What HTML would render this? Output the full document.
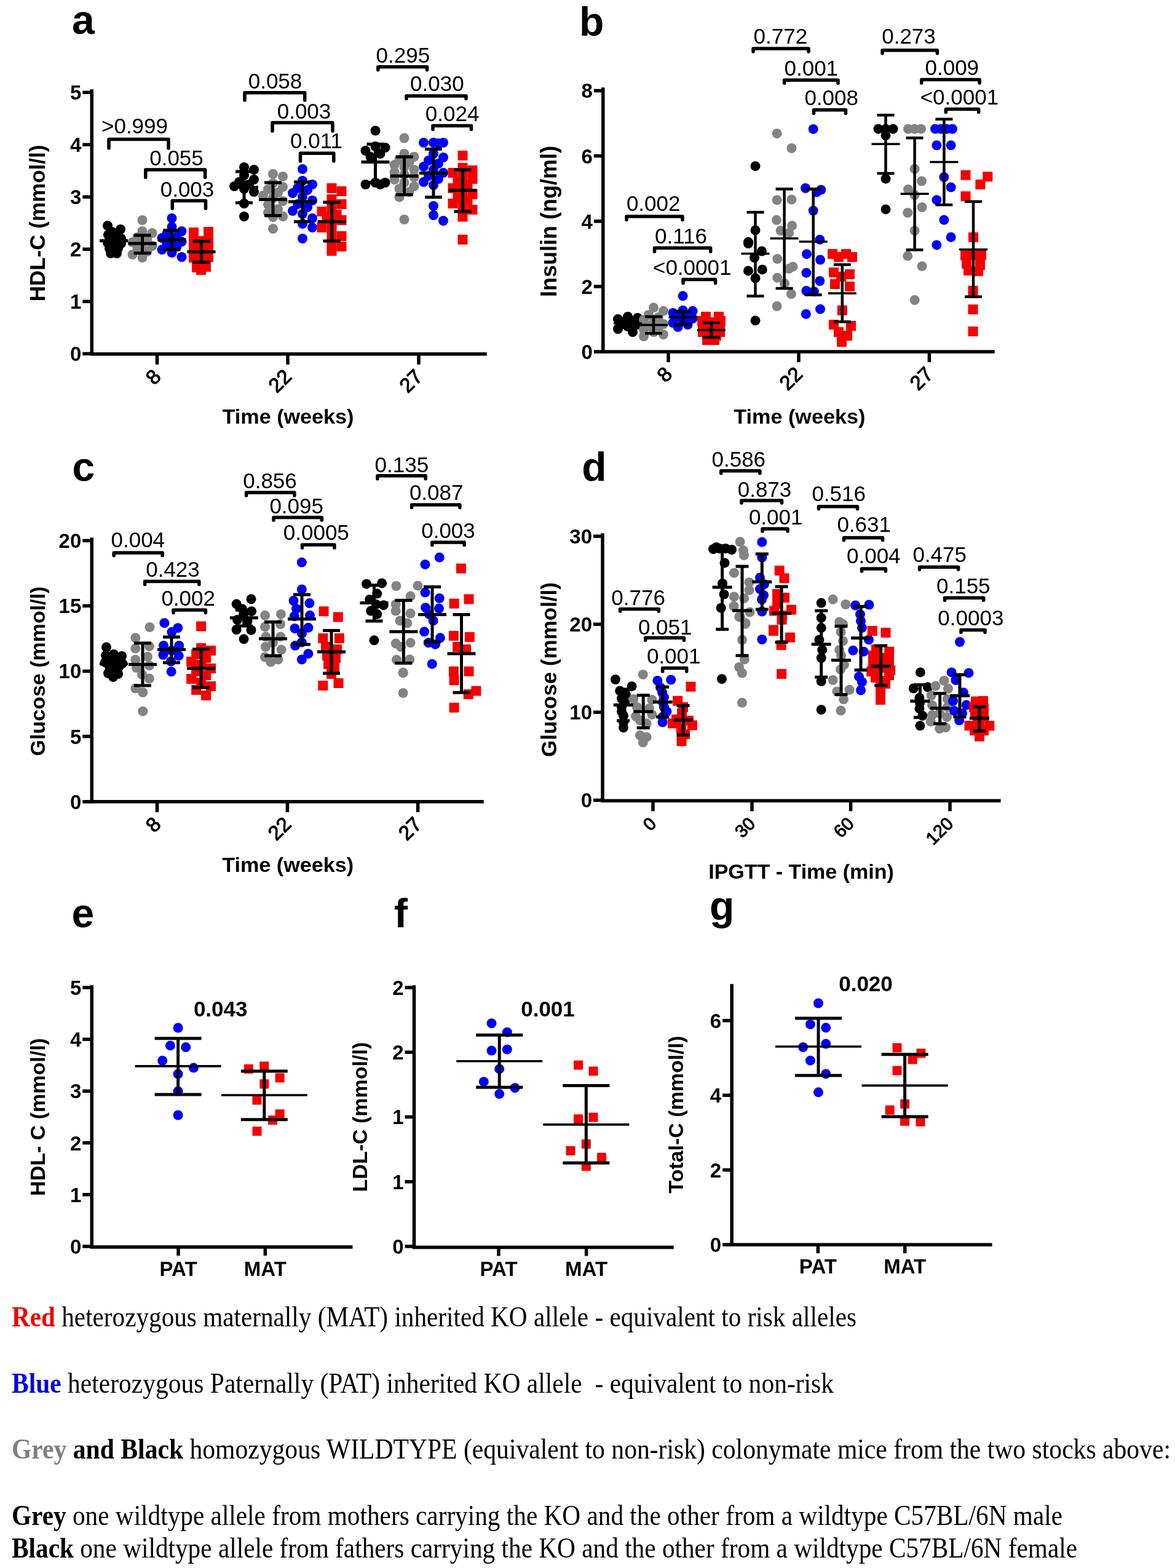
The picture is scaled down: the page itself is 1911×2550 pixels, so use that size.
<!DOCTYPE html>
<html><head><meta charset="utf-8"><title>Figure</title>
<style>html,body{margin:0;padding:0;background:#fff;}svg{display:block;}</style></head>
<body><svg width="1911" height="2550" viewBox="0 0 1911 2550">
<rect width="1911" height="2550" fill="#fff"/>
<circle cx="175.0" cy="367.0" r="8.0" fill="#000000"/>
<circle cx="196.0" cy="373.0" r="8.0" fill="#000000"/>
<circle cx="182.0" cy="377.0" r="8.0" fill="#000000"/>
<circle cx="176.0" cy="382.0" r="8.0" fill="#000000"/>
<circle cx="192.0" cy="382.0" r="8.0" fill="#000000"/>
<circle cx="197.0" cy="388.0" r="8.0" fill="#000000"/>
<circle cx="180.0" cy="389.0" r="8.0" fill="#000000"/>
<circle cx="188.0" cy="392.0" r="8.0" fill="#000000"/>
<circle cx="175.0" cy="395.0" r="8.0" fill="#000000"/>
<circle cx="197.0" cy="396.0" r="8.0" fill="#000000"/>
<circle cx="184.0" cy="399.0" r="8.0" fill="#000000"/>
<circle cx="178.0" cy="404.0" r="8.0" fill="#000000"/>
<circle cx="192.0" cy="404.0" r="8.0" fill="#000000"/>
<circle cx="185.0" cy="409.0" r="8.0" fill="#000000"/>
<circle cx="180.0" cy="412.0" r="8.0" fill="#000000"/>
<circle cx="190.0" cy="412.0" r="8.0" fill="#000000"/>
<circle cx="231.5" cy="358.0" r="8.0" fill="#838383"/>
<circle cx="231.5" cy="376.0" r="8.0" fill="#838383"/>
<circle cx="247.5" cy="379.0" r="8.0" fill="#838383"/>
<circle cx="223.5" cy="386.0" r="8.0" fill="#838383"/>
<circle cx="239.5" cy="390.0" r="8.0" fill="#838383"/>
<circle cx="215.5" cy="394.0" r="8.0" fill="#838383"/>
<circle cx="231.5" cy="397.0" r="8.0" fill="#838383"/>
<circle cx="247.5" cy="400.0" r="8.0" fill="#838383"/>
<circle cx="223.5" cy="404.0" r="8.0" fill="#838383"/>
<circle cx="239.5" cy="409.0" r="8.0" fill="#838383"/>
<circle cx="215.5" cy="414.0" r="8.0" fill="#838383"/>
<circle cx="231.5" cy="419.0" r="8.0" fill="#838383"/>
<circle cx="279.5" cy="355.0" r="8.0" fill="#0000f5"/>
<circle cx="279.5" cy="369.0" r="8.0" fill="#0000f5"/>
<circle cx="295.5" cy="376.0" r="8.0" fill="#0000f5"/>
<circle cx="271.5" cy="380.0" r="8.0" fill="#0000f5"/>
<circle cx="287.5" cy="384.0" r="8.0" fill="#0000f5"/>
<circle cx="263.5" cy="387.0" r="8.0" fill="#0000f5"/>
<circle cx="279.5" cy="390.0" r="8.0" fill="#0000f5"/>
<circle cx="295.5" cy="393.0" r="8.0" fill="#0000f5"/>
<circle cx="271.5" cy="397.0" r="8.0" fill="#0000f5"/>
<circle cx="287.5" cy="401.0" r="8.0" fill="#0000f5"/>
<circle cx="263.5" cy="406.0" r="8.0" fill="#0000f5"/>
<circle cx="279.5" cy="411.0" r="8.0" fill="#0000f5"/>
<circle cx="295.5" cy="418.0" r="8.0" fill="#0000f5"/>
<rect x="307.0" y="370.0" width="16.0" height="16.0" fill="#f50000"/>
<rect x="331.0" y="369.0" width="16.0" height="16.0" fill="#f50000"/>
<rect x="307.0" y="379.0" width="16.0" height="16.0" fill="#f50000"/>
<rect x="331.0" y="378.0" width="16.0" height="16.0" fill="#f50000"/>
<rect x="319.0" y="384.0" width="16.0" height="16.0" fill="#f50000"/>
<rect x="307.0" y="389.0" width="16.0" height="16.0" fill="#f50000"/>
<rect x="331.0" y="388.0" width="16.0" height="16.0" fill="#f50000"/>
<rect x="319.0" y="395.0" width="16.0" height="16.0" fill="#f50000"/>
<rect x="307.0" y="400.0" width="16.0" height="16.0" fill="#f50000"/>
<rect x="331.0" y="399.0" width="16.0" height="16.0" fill="#f50000"/>
<rect x="319.0" y="406.0" width="16.0" height="16.0" fill="#f50000"/>
<rect x="307.0" y="411.0" width="16.0" height="16.0" fill="#f50000"/>
<rect x="331.0" y="410.0" width="16.0" height="16.0" fill="#f50000"/>
<rect x="313.0" y="419.0" width="16.0" height="16.0" fill="#f50000"/>
<rect x="327.0" y="418.0" width="16.0" height="16.0" fill="#f50000"/>
<rect x="312.0" y="427.0" width="16.0" height="16.0" fill="#f50000"/>
<rect x="327.0" y="426.0" width="16.0" height="16.0" fill="#f50000"/>
<rect x="319.0" y="431.0" width="16.0" height="16.0" fill="#f50000"/>
<circle cx="397.0" cy="272.0" r="8.0" fill="#000000"/>
<circle cx="413.0" cy="276.0" r="8.0" fill="#000000"/>
<circle cx="397.0" cy="285.0" r="8.0" fill="#000000"/>
<circle cx="413.0" cy="292.0" r="8.0" fill="#000000"/>
<circle cx="389.0" cy="296.0" r="8.0" fill="#000000"/>
<circle cx="405.0" cy="300.0" r="8.0" fill="#000000"/>
<circle cx="381.0" cy="303.0" r="8.0" fill="#000000"/>
<circle cx="397.0" cy="307.0" r="8.0" fill="#000000"/>
<circle cx="413.0" cy="312.0" r="8.0" fill="#000000"/>
<circle cx="397.0" cy="331.0" r="8.0" fill="#000000"/>
<circle cx="397.0" cy="352.0" r="8.0" fill="#000000"/>
<circle cx="444.0" cy="283.0" r="8.0" fill="#838383"/>
<circle cx="460.0" cy="287.0" r="8.0" fill="#838383"/>
<circle cx="444.0" cy="298.0" r="8.0" fill="#838383"/>
<circle cx="460.0" cy="304.0" r="8.0" fill="#838383"/>
<circle cx="436.0" cy="308.0" r="8.0" fill="#838383"/>
<circle cx="452.0" cy="313.0" r="8.0" fill="#838383"/>
<circle cx="428.0" cy="318.0" r="8.0" fill="#838383"/>
<circle cx="444.0" cy="322.0" r="8.0" fill="#838383"/>
<circle cx="460.0" cy="327.0" r="8.0" fill="#838383"/>
<circle cx="436.0" cy="333.0" r="8.0" fill="#838383"/>
<circle cx="452.0" cy="340.0" r="8.0" fill="#838383"/>
<circle cx="436.0" cy="346.0" r="8.0" fill="#838383"/>
<circle cx="460.0" cy="352.0" r="8.0" fill="#838383"/>
<circle cx="444.0" cy="353.0" r="8.0" fill="#838383"/>
<circle cx="444.0" cy="372.0" r="8.0" fill="#838383"/>
<circle cx="492.0" cy="275.0" r="8.0" fill="#0000f5"/>
<circle cx="492.0" cy="294.0" r="8.0" fill="#0000f5"/>
<circle cx="508.0" cy="300.0" r="8.0" fill="#0000f5"/>
<circle cx="484.0" cy="306.0" r="8.0" fill="#0000f5"/>
<circle cx="500.0" cy="309.0" r="8.0" fill="#0000f5"/>
<circle cx="476.0" cy="314.0" r="8.0" fill="#0000f5"/>
<circle cx="492.0" cy="320.0" r="8.0" fill="#0000f5"/>
<circle cx="508.0" cy="326.0" r="8.0" fill="#0000f5"/>
<circle cx="484.0" cy="332.0" r="8.0" fill="#0000f5"/>
<circle cx="500.0" cy="337.0" r="8.0" fill="#0000f5"/>
<circle cx="476.0" cy="343.0" r="8.0" fill="#0000f5"/>
<circle cx="492.0" cy="348.0" r="8.0" fill="#0000f5"/>
<circle cx="508.0" cy="355.0" r="8.0" fill="#0000f5"/>
<circle cx="492.0" cy="364.0" r="8.0" fill="#0000f5"/>
<circle cx="508.0" cy="370.0" r="8.0" fill="#0000f5"/>
<circle cx="492.0" cy="388.0" r="8.0" fill="#0000f5"/>
<rect x="531.5" y="298.0" width="16.0" height="16.0" fill="#f50000"/>
<rect x="547.5" y="303.0" width="16.0" height="16.0" fill="#f50000"/>
<rect x="531.5" y="316.0" width="16.0" height="16.0" fill="#f50000"/>
<rect x="547.5" y="324.0" width="16.0" height="16.0" fill="#f50000"/>
<rect x="531.5" y="331.0" width="16.0" height="16.0" fill="#f50000"/>
<rect x="515.5" y="336.0" width="16.0" height="16.0" fill="#f50000"/>
<rect x="539.5" y="341.0" width="16.0" height="16.0" fill="#f50000"/>
<rect x="523.5" y="345.0" width="16.0" height="16.0" fill="#f50000"/>
<rect x="547.5" y="350.0" width="16.0" height="16.0" fill="#f50000"/>
<rect x="531.5" y="356.0" width="16.0" height="16.0" fill="#f50000"/>
<rect x="515.5" y="362.0" width="16.0" height="16.0" fill="#f50000"/>
<rect x="531.5" y="369.0" width="16.0" height="16.0" fill="#f50000"/>
<rect x="547.5" y="376.0" width="16.0" height="16.0" fill="#f50000"/>
<rect x="531.5" y="385.0" width="16.0" height="16.0" fill="#f50000"/>
<rect x="547.5" y="393.0" width="16.0" height="16.0" fill="#f50000"/>
<rect x="531.5" y="400.0" width="16.0" height="16.0" fill="#f50000"/>
<circle cx="610.5" cy="212.5" r="8.0" fill="#000000"/>
<circle cx="610.5" cy="238.0" r="8.0" fill="#000000"/>
<circle cx="626.5" cy="240.0" r="8.0" fill="#000000"/>
<circle cx="594.5" cy="245.0" r="8.0" fill="#000000"/>
<circle cx="618.5" cy="250.0" r="8.0" fill="#000000"/>
<circle cx="602.5" cy="255.0" r="8.0" fill="#000000"/>
<circle cx="610.5" cy="297.0" r="8.0" fill="#000000"/>
<circle cx="594.5" cy="300.0" r="8.0" fill="#000000"/>
<circle cx="626.5" cy="297.0" r="8.0" fill="#000000"/>
<circle cx="618.5" cy="300.0" r="8.0" fill="#000000"/>
<circle cx="657.5" cy="224.5" r="8.0" fill="#838383"/>
<circle cx="657.5" cy="250.0" r="8.0" fill="#838383"/>
<circle cx="673.5" cy="255.0" r="8.0" fill="#838383"/>
<circle cx="649.5" cy="260.0" r="8.0" fill="#838383"/>
<circle cx="665.5" cy="264.0" r="8.0" fill="#838383"/>
<circle cx="641.5" cy="268.0" r="8.0" fill="#838383"/>
<circle cx="657.5" cy="272.0" r="8.0" fill="#838383"/>
<circle cx="673.5" cy="276.0" r="8.0" fill="#838383"/>
<circle cx="641.5" cy="280.0" r="8.0" fill="#838383"/>
<circle cx="657.5" cy="284.0" r="8.0" fill="#838383"/>
<circle cx="673.5" cy="288.0" r="8.0" fill="#838383"/>
<circle cx="641.5" cy="292.0" r="8.0" fill="#838383"/>
<circle cx="657.5" cy="297.0" r="8.0" fill="#838383"/>
<circle cx="673.5" cy="303.0" r="8.0" fill="#838383"/>
<circle cx="649.5" cy="307.0" r="8.0" fill="#838383"/>
<circle cx="665.5" cy="312.0" r="8.0" fill="#838383"/>
<circle cx="649.5" cy="320.7" r="8.0" fill="#838383"/>
<circle cx="657.5" cy="357.0" r="8.0" fill="#838383"/>
<circle cx="705.0" cy="232.0" r="8.0" fill="#0000f5"/>
<circle cx="721.0" cy="232.0" r="8.0" fill="#0000f5"/>
<circle cx="689.0" cy="232.0" r="8.0" fill="#0000f5"/>
<circle cx="713.0" cy="233.0" r="8.0" fill="#0000f5"/>
<circle cx="705.0" cy="250.0" r="8.0" fill="#0000f5"/>
<circle cx="721.0" cy="256.0" r="8.0" fill="#0000f5"/>
<circle cx="697.0" cy="261.0" r="8.0" fill="#0000f5"/>
<circle cx="713.0" cy="266.0" r="8.0" fill="#0000f5"/>
<circle cx="689.0" cy="271.0" r="8.0" fill="#0000f5"/>
<circle cx="705.0" cy="276.0" r="8.0" fill="#0000f5"/>
<circle cx="721.0" cy="281.0" r="8.0" fill="#0000f5"/>
<circle cx="697.0" cy="286.0" r="8.0" fill="#0000f5"/>
<circle cx="713.0" cy="291.0" r="8.0" fill="#0000f5"/>
<circle cx="689.0" cy="296.0" r="8.0" fill="#0000f5"/>
<circle cx="705.0" cy="301.0" r="8.0" fill="#0000f5"/>
<circle cx="705.0" cy="335.0" r="8.0" fill="#0000f5"/>
<circle cx="705.0" cy="350.0" r="8.0" fill="#0000f5"/>
<circle cx="721.0" cy="359.0" r="8.0" fill="#0000f5"/>
<rect x="744.5" y="245.0" width="16.0" height="16.0" fill="#f50000"/>
<rect x="744.5" y="265.0" width="16.0" height="16.0" fill="#f50000"/>
<rect x="760.5" y="269.0" width="16.0" height="16.0" fill="#f50000"/>
<rect x="728.5" y="273.0" width="16.0" height="16.0" fill="#f50000"/>
<rect x="744.5" y="278.0" width="16.0" height="16.0" fill="#f50000"/>
<rect x="760.5" y="283.0" width="16.0" height="16.0" fill="#f50000"/>
<rect x="736.5" y="288.0" width="16.0" height="16.0" fill="#f50000"/>
<rect x="752.5" y="293.0" width="16.0" height="16.0" fill="#f50000"/>
<rect x="728.5" y="298.0" width="16.0" height="16.0" fill="#f50000"/>
<rect x="744.5" y="303.0" width="16.0" height="16.0" fill="#f50000"/>
<rect x="760.5" y="308.0" width="16.0" height="16.0" fill="#f50000"/>
<rect x="736.5" y="313.0" width="16.0" height="16.0" fill="#f50000"/>
<rect x="752.5" y="318.0" width="16.0" height="16.0" fill="#f50000"/>
<rect x="728.5" y="323.0" width="16.0" height="16.0" fill="#f50000"/>
<rect x="744.5" y="328.0" width="16.0" height="16.0" fill="#f50000"/>
<rect x="760.5" y="333.0" width="16.0" height="16.0" fill="#f50000"/>
<rect x="744.5" y="344.5" width="16.0" height="16.0" fill="#f50000"/>
<rect x="744.5" y="381.7" width="16.0" height="16.0" fill="#f50000"/>
<line x1="185.0" y1="380.8" x2="185.0" y2="406.0" stroke="#000" stroke-width="5" stroke-linecap="butt"/>
<line x1="171.0" y1="380.8" x2="199.0" y2="380.8" stroke="#000" stroke-width="5" stroke-linecap="butt"/>
<line x1="171.0" y1="406.0" x2="199.0" y2="406.0" stroke="#000" stroke-width="5" stroke-linecap="butt"/>
<line x1="162.0" y1="391.5" x2="208.0" y2="391.5" stroke="#000" stroke-width="5" stroke-linecap="butt"/>
<line x1="231.5" y1="382.6" x2="231.5" y2="411.6" stroke="#000" stroke-width="5" stroke-linecap="butt"/>
<line x1="217.5" y1="382.6" x2="245.5" y2="382.6" stroke="#000" stroke-width="5" stroke-linecap="butt"/>
<line x1="217.5" y1="411.6" x2="245.5" y2="411.6" stroke="#000" stroke-width="5" stroke-linecap="butt"/>
<line x1="208.5" y1="396.0" x2="254.5" y2="396.0" stroke="#000" stroke-width="5" stroke-linecap="butt"/>
<line x1="279.5" y1="374.5" x2="279.5" y2="406.0" stroke="#000" stroke-width="5" stroke-linecap="butt"/>
<line x1="265.5" y1="374.5" x2="293.5" y2="374.5" stroke="#000" stroke-width="5" stroke-linecap="butt"/>
<line x1="265.5" y1="406.0" x2="293.5" y2="406.0" stroke="#000" stroke-width="5" stroke-linecap="butt"/>
<line x1="256.5" y1="389.9" x2="302.5" y2="389.9" stroke="#000" stroke-width="5" stroke-linecap="butt"/>
<line x1="327.5" y1="392.5" x2="327.5" y2="426.5" stroke="#000" stroke-width="5" stroke-linecap="butt"/>
<line x1="313.5" y1="392.5" x2="341.5" y2="392.5" stroke="#000" stroke-width="5" stroke-linecap="butt"/>
<line x1="313.5" y1="426.5" x2="341.5" y2="426.5" stroke="#000" stroke-width="5" stroke-linecap="butt"/>
<line x1="304.5" y1="409.4" x2="350.5" y2="409.4" stroke="#000" stroke-width="5" stroke-linecap="butt"/>
<line x1="397.0" y1="279.0" x2="397.0" y2="329.8" stroke="#000" stroke-width="5" stroke-linecap="butt"/>
<line x1="383.0" y1="279.0" x2="411.0" y2="279.0" stroke="#000" stroke-width="5" stroke-linecap="butt"/>
<line x1="383.0" y1="329.8" x2="411.0" y2="329.8" stroke="#000" stroke-width="5" stroke-linecap="butt"/>
<line x1="374.0" y1="304.4" x2="420.0" y2="304.4" stroke="#000" stroke-width="5" stroke-linecap="butt"/>
<line x1="444.0" y1="297.0" x2="444.0" y2="350.6" stroke="#000" stroke-width="5" stroke-linecap="butt"/>
<line x1="430.0" y1="297.0" x2="458.0" y2="297.0" stroke="#000" stroke-width="5" stroke-linecap="butt"/>
<line x1="430.0" y1="350.6" x2="458.0" y2="350.6" stroke="#000" stroke-width="5" stroke-linecap="butt"/>
<line x1="421.0" y1="324.4" x2="467.0" y2="324.4" stroke="#000" stroke-width="5" stroke-linecap="butt"/>
<line x1="492.0" y1="296.0" x2="492.0" y2="360.5" stroke="#000" stroke-width="5" stroke-linecap="butt"/>
<line x1="478.0" y1="296.0" x2="506.0" y2="296.0" stroke="#000" stroke-width="5" stroke-linecap="butt"/>
<line x1="478.0" y1="360.5" x2="506.0" y2="360.5" stroke="#000" stroke-width="5" stroke-linecap="butt"/>
<line x1="469.0" y1="328.0" x2="515.0" y2="328.0" stroke="#000" stroke-width="5" stroke-linecap="butt"/>
<line x1="539.5" y1="329.0" x2="539.5" y2="392.0" stroke="#000" stroke-width="5" stroke-linecap="butt"/>
<line x1="525.5" y1="329.0" x2="553.5" y2="329.0" stroke="#000" stroke-width="5" stroke-linecap="butt"/>
<line x1="525.5" y1="392.0" x2="553.5" y2="392.0" stroke="#000" stroke-width="5" stroke-linecap="butt"/>
<line x1="516.5" y1="360.5" x2="562.5" y2="360.5" stroke="#000" stroke-width="5" stroke-linecap="butt"/>
<line x1="610.5" y1="234.4" x2="610.5" y2="296.8" stroke="#000" stroke-width="5" stroke-linecap="butt"/>
<line x1="596.5" y1="234.4" x2="624.5" y2="234.4" stroke="#000" stroke-width="5" stroke-linecap="butt"/>
<line x1="596.5" y1="296.8" x2="624.5" y2="296.8" stroke="#000" stroke-width="5" stroke-linecap="butt"/>
<line x1="587.5" y1="263.6" x2="633.5" y2="263.6" stroke="#000" stroke-width="5" stroke-linecap="butt"/>
<line x1="657.5" y1="255.0" x2="657.5" y2="316.7" stroke="#000" stroke-width="5" stroke-linecap="butt"/>
<line x1="643.5" y1="255.0" x2="671.5" y2="255.0" stroke="#000" stroke-width="5" stroke-linecap="butt"/>
<line x1="643.5" y1="316.7" x2="671.5" y2="316.7" stroke="#000" stroke-width="5" stroke-linecap="butt"/>
<line x1="634.5" y1="286.2" x2="680.5" y2="286.2" stroke="#000" stroke-width="5" stroke-linecap="butt"/>
<line x1="705.0" y1="242.4" x2="705.0" y2="320.7" stroke="#000" stroke-width="5" stroke-linecap="butt"/>
<line x1="691.0" y1="242.4" x2="719.0" y2="242.4" stroke="#000" stroke-width="5" stroke-linecap="butt"/>
<line x1="691.0" y1="320.7" x2="719.0" y2="320.7" stroke="#000" stroke-width="5" stroke-linecap="butt"/>
<line x1="682.0" y1="281.5" x2="728.0" y2="281.5" stroke="#000" stroke-width="5" stroke-linecap="butt"/>
<line x1="752.5" y1="276.2" x2="752.5" y2="343.9" stroke="#000" stroke-width="5" stroke-linecap="butt"/>
<line x1="738.5" y1="276.2" x2="766.5" y2="276.2" stroke="#000" stroke-width="5" stroke-linecap="butt"/>
<line x1="738.5" y1="343.9" x2="766.5" y2="343.9" stroke="#000" stroke-width="5" stroke-linecap="butt"/>
<line x1="729.5" y1="309.4" x2="775.5" y2="309.4" stroke="#000" stroke-width="5" stroke-linecap="butt"/>
<path d="M149.3,148.0 L149.3,575.8 L789.0,575.8" fill="none" stroke="#000" stroke-width="5.5" stroke-linejoin="miter" stroke-linecap="square"/>
<line x1="134.3" y1="575.3" x2="149.3" y2="575.3" stroke="#000" stroke-width="5.5" stroke-linecap="butt"/>
<text x="132.3" y="587.2" style="font-family:'Liberation Sans',Arial,sans-serif;font-size:33px;font-weight:bold" text-anchor="end" fill="#000" >0</text>
<line x1="134.3" y1="490.3" x2="149.3" y2="490.3" stroke="#000" stroke-width="5.5" stroke-linecap="butt"/>
<text x="132.3" y="502.2" style="font-family:'Liberation Sans',Arial,sans-serif;font-size:33px;font-weight:bold" text-anchor="end" fill="#000" >1</text>
<line x1="134.3" y1="405.3" x2="149.3" y2="405.3" stroke="#000" stroke-width="5.5" stroke-linecap="butt"/>
<text x="132.3" y="417.2" style="font-family:'Liberation Sans',Arial,sans-serif;font-size:33px;font-weight:bold" text-anchor="end" fill="#000" >2</text>
<line x1="134.3" y1="320.3" x2="149.3" y2="320.3" stroke="#000" stroke-width="5.5" stroke-linecap="butt"/>
<text x="132.3" y="332.2" style="font-family:'Liberation Sans',Arial,sans-serif;font-size:33px;font-weight:bold" text-anchor="end" fill="#000" >3</text>
<line x1="134.3" y1="235.3" x2="149.3" y2="235.3" stroke="#000" stroke-width="5.5" stroke-linecap="butt"/>
<text x="132.3" y="247.2" style="font-family:'Liberation Sans',Arial,sans-serif;font-size:33px;font-weight:bold" text-anchor="end" fill="#000" >4</text>
<line x1="134.3" y1="150.3" x2="149.3" y2="150.3" stroke="#000" stroke-width="5.5" stroke-linecap="butt"/>
<text x="132.3" y="162.2" style="font-family:'Liberation Sans',Arial,sans-serif;font-size:33px;font-weight:bold" text-anchor="end" fill="#000" >5</text>
<line x1="255.5" y1="575.8" x2="255.5" y2="592.8" stroke="#000" stroke-width="5.5" stroke-linecap="butt"/>
<text x="0" y="0" style="font-family:'Liberation Sans',Arial,sans-serif;font-size:33px;font-weight:normal" text-anchor="end" dominant-baseline="central" stroke="#000" stroke-width="1.1" transform="translate(255.5,606.3) rotate(-45)">8</text>
<line x1="468.0" y1="575.8" x2="468.0" y2="592.8" stroke="#000" stroke-width="5.5" stroke-linecap="butt"/>
<text x="0" y="0" style="font-family:'Liberation Sans',Arial,sans-serif;font-size:33px;font-weight:normal" text-anchor="end" dominant-baseline="central" stroke="#000" stroke-width="1.1" transform="translate(468.0,606.3) rotate(-45)">22</text>
<line x1="681.0" y1="575.8" x2="681.0" y2="592.8" stroke="#000" stroke-width="5.5" stroke-linecap="butt"/>
<text x="0" y="0" style="font-family:'Liberation Sans',Arial,sans-serif;font-size:33px;font-weight:normal" text-anchor="end" dominant-baseline="central" stroke="#000" stroke-width="1.1" transform="translate(681.0,606.3) rotate(-45)">27</text>
<path d="M177.0,241.0 L177.0,226.5 L274.0,226.5 L274.0,241.0" fill="none" stroke="#000" stroke-width="5.5" stroke-linejoin="round" stroke-linecap="round"/>
<text x="219.0" y="216.5" style="font-family:'Liberation Sans',Arial,sans-serif;font-size:35px;font-weight:normal" text-anchor="middle" fill="#000" >&gt;0.999</text>
<path d="M236.8,288.6 L236.8,275.9 L333.6,275.9 L333.6,288.6" fill="none" stroke="#000" stroke-width="5.5" stroke-linejoin="round" stroke-linecap="round"/>
<text x="287.0" y="268.6" style="font-family:'Liberation Sans',Arial,sans-serif;font-size:35px;font-weight:normal" text-anchor="middle" fill="#000" >0.055</text>
<path d="M280.3,339.0 L280.3,326.6 L334.5,326.6 L334.5,339.0" fill="none" stroke="#000" stroke-width="5.5" stroke-linejoin="round" stroke-linecap="round"/>
<text x="304.5" y="320.2" style="font-family:'Liberation Sans',Arial,sans-serif;font-size:35px;font-weight:normal" text-anchor="middle" fill="#000" >0.003</text>
<path d="M398.0,163.0 L398.0,150.7 L495.7,150.7 L495.7,163.0" fill="none" stroke="#000" stroke-width="5.5" stroke-linejoin="round" stroke-linecap="round"/>
<text x="447.5" y="144.3" style="font-family:'Liberation Sans',Arial,sans-serif;font-size:35px;font-weight:normal" text-anchor="middle" fill="#000" >0.058</text>
<path d="M443.0,213.0 L443.0,199.5 L541.0,199.5 L541.0,213.0" fill="none" stroke="#000" stroke-width="5.5" stroke-linejoin="round" stroke-linecap="round"/>
<text x="494.5" y="193.0" style="font-family:'Liberation Sans',Arial,sans-serif;font-size:35px;font-weight:normal" text-anchor="middle" fill="#000" >0.003</text>
<path d="M488.5,262.0 L488.5,249.3 L542.8,249.3 L542.8,262.0" fill="none" stroke="#000" stroke-width="5.5" stroke-linejoin="round" stroke-linecap="round"/>
<text x="514.5" y="241.0" style="font-family:'Liberation Sans',Arial,sans-serif;font-size:35px;font-weight:normal" text-anchor="middle" fill="#000" >0.011</text>
<path d="M614.8,113.8 L614.8,108.8 L694.5,108.8 L694.5,113.8" fill="none" stroke="#000" stroke-width="5.5" stroke-linejoin="round" stroke-linecap="round"/>
<text x="655.4" y="102.3" style="font-family:'Liberation Sans',Arial,sans-serif;font-size:35px;font-weight:normal" text-anchor="middle" fill="#000" >0.295</text>
<path d="M661.0,160.5 L661.0,156.0 L758.0,156.0 L758.0,160.5" fill="none" stroke="#000" stroke-width="5.5" stroke-linejoin="round" stroke-linecap="round"/>
<text x="710.9" y="148.0" style="font-family:'Liberation Sans',Arial,sans-serif;font-size:35px;font-weight:normal" text-anchor="middle" fill="#000" >0.030</text>
<path d="M704.0,210.5 L704.0,204.5 L766.4,204.5 L766.4,210.5" fill="none" stroke="#000" stroke-width="5.5" stroke-linejoin="round" stroke-linecap="round"/>
<text x="735.6" y="196.7" style="font-family:'Liberation Sans',Arial,sans-serif;font-size:35px;font-weight:normal" text-anchor="middle" fill="#000" >0.024</text>
<text x="468.5" y="689.0" style="font-family:'Liberation Sans',Arial,sans-serif;font-size:34px;font-weight:bold" text-anchor="middle" fill="#000" textLength="214" lengthAdjust="spacingAndGlyphs" >Time (weeks)</text>
<text x="0" y="0" style="font-family:'Liberation Sans',Arial,sans-serif;font-size:35px;font-weight:bold" text-anchor="middle" transform="translate(73.0,363.0) rotate(-90)">HDL-C  (mmol/l)</text>
<circle cx="1021.0" cy="515.0" r="8.0" fill="#000000"/>
<circle cx="1037.0" cy="517.0" r="8.0" fill="#000000"/>
<circle cx="1005.0" cy="519.0" r="8.0" fill="#000000"/>
<circle cx="1029.0" cy="522.0" r="8.0" fill="#000000"/>
<circle cx="1013.0" cy="525.0" r="8.0" fill="#000000"/>
<circle cx="1037.0" cy="528.0" r="8.0" fill="#000000"/>
<circle cx="1021.0" cy="531.0" r="8.0" fill="#000000"/>
<circle cx="1005.0" cy="535.0" r="8.0" fill="#000000"/>
<circle cx="1029.0" cy="540.0" r="8.0" fill="#000000"/>
<circle cx="1063.0" cy="500.3" r="8.0" fill="#838383"/>
<circle cx="1079.0" cy="505.8" r="8.0" fill="#838383"/>
<circle cx="1055.0" cy="512.0" r="8.0" fill="#838383"/>
<circle cx="1071.0" cy="516.0" r="8.0" fill="#838383"/>
<circle cx="1047.0" cy="520.0" r="8.0" fill="#838383"/>
<circle cx="1063.0" cy="524.0" r="8.0" fill="#838383"/>
<circle cx="1079.0" cy="527.0" r="8.0" fill="#838383"/>
<circle cx="1055.0" cy="530.0" r="8.0" fill="#838383"/>
<circle cx="1071.0" cy="533.0" r="8.0" fill="#838383"/>
<circle cx="1047.0" cy="536.0" r="8.0" fill="#838383"/>
<circle cx="1063.0" cy="540.0" r="8.0" fill="#838383"/>
<circle cx="1079.0" cy="544.0" r="8.0" fill="#838383"/>
<circle cx="1047.0" cy="547.0" r="8.0" fill="#838383"/>
<circle cx="1110.6" cy="481.3" r="8.0" fill="#0000f5"/>
<circle cx="1110.6" cy="504.7" r="8.0" fill="#0000f5"/>
<circle cx="1126.6" cy="505.8" r="8.0" fill="#0000f5"/>
<circle cx="1094.6" cy="509.0" r="8.0" fill="#0000f5"/>
<circle cx="1118.6" cy="512.0" r="8.0" fill="#0000f5"/>
<circle cx="1102.6" cy="515.0" r="8.0" fill="#0000f5"/>
<circle cx="1126.6" cy="518.0" r="8.0" fill="#0000f5"/>
<circle cx="1110.6" cy="521.0" r="8.0" fill="#0000f5"/>
<circle cx="1094.6" cy="525.0" r="8.0" fill="#0000f5"/>
<circle cx="1118.6" cy="528.0" r="8.0" fill="#0000f5"/>
<circle cx="1102.6" cy="531.8" r="8.0" fill="#0000f5"/>
<rect x="1140.0" y="507.0" width="16.0" height="16.0" fill="#f50000"/>
<rect x="1161.0" y="507.0" width="16.0" height="16.0" fill="#f50000"/>
<rect x="1134.0" y="514.0" width="16.0" height="16.0" fill="#f50000"/>
<rect x="1149.0" y="516.0" width="16.0" height="16.0" fill="#f50000"/>
<rect x="1164.0" y="514.0" width="16.0" height="16.0" fill="#f50000"/>
<rect x="1135.0" y="523.0" width="16.0" height="16.0" fill="#f50000"/>
<rect x="1163.0" y="523.0" width="16.0" height="16.0" fill="#f50000"/>
<rect x="1149.0" y="527.0" width="16.0" height="16.0" fill="#f50000"/>
<rect x="1135.0" y="532.0" width="16.0" height="16.0" fill="#f50000"/>
<rect x="1163.0" y="532.0" width="16.0" height="16.0" fill="#f50000"/>
<rect x="1142.0" y="538.0" width="16.0" height="16.0" fill="#f50000"/>
<rect x="1157.0" y="538.0" width="16.0" height="16.0" fill="#f50000"/>
<rect x="1142.0" y="545.0" width="16.0" height="16.0" fill="#f50000"/>
<rect x="1154.0" y="545.0" width="16.0" height="16.0" fill="#f50000"/>
<circle cx="1228.5" cy="270.2" r="8.0" fill="#000000"/>
<circle cx="1228.5" cy="374.4" r="8.0" fill="#000000"/>
<circle cx="1217.0" cy="393.6" r="8.0" fill="#000000"/>
<circle cx="1239.0" cy="408.5" r="8.0" fill="#000000"/>
<circle cx="1227.0" cy="419.0" r="8.0" fill="#000000"/>
<circle cx="1217.0" cy="440.4" r="8.0" fill="#000000"/>
<circle cx="1239.8" cy="438.4" r="8.0" fill="#000000"/>
<circle cx="1228.5" cy="452.3" r="8.0" fill="#000000"/>
<circle cx="1228.5" cy="521.3" r="8.0" fill="#000000"/>
<circle cx="1217.0" cy="396.0" r="8.0" fill="#000000"/>
<circle cx="1263.6" cy="217.2" r="8.0" fill="#838383"/>
<circle cx="1287.5" cy="241.0" r="8.0" fill="#838383"/>
<circle cx="1263.6" cy="325.3" r="8.0" fill="#838383"/>
<circle cx="1287.5" cy="324.6" r="8.0" fill="#838383"/>
<circle cx="1263.0" cy="357.8" r="8.0" fill="#838383"/>
<circle cx="1288.2" cy="367.1" r="8.0" fill="#838383"/>
<circle cx="1269.6" cy="375.0" r="8.0" fill="#838383"/>
<circle cx="1283.0" cy="379.0" r="8.0" fill="#838383"/>
<circle cx="1264.3" cy="421.0" r="8.0" fill="#838383"/>
<circle cx="1289.5" cy="433.7" r="8.0" fill="#838383"/>
<circle cx="1283.0" cy="437.0" r="8.0" fill="#838383"/>
<circle cx="1264.3" cy="451.7" r="8.0" fill="#838383"/>
<circle cx="1276.0" cy="461.0" r="8.0" fill="#838383"/>
<circle cx="1286.9" cy="478.2" r="8.0" fill="#838383"/>
<circle cx="1263.6" cy="498.0" r="8.0" fill="#838383"/>
<circle cx="1322.7" cy="209.9" r="8.0" fill="#0000f5"/>
<circle cx="1310.0" cy="306.0" r="8.0" fill="#0000f5"/>
<circle cx="1335.3" cy="308.7" r="8.0" fill="#0000f5"/>
<circle cx="1328.0" cy="312.7" r="8.0" fill="#0000f5"/>
<circle cx="1322.7" cy="342.6" r="8.0" fill="#0000f5"/>
<circle cx="1333.3" cy="389.7" r="8.0" fill="#0000f5"/>
<circle cx="1312.0" cy="413.2" r="8.0" fill="#0000f5"/>
<circle cx="1334.0" cy="422.5" r="8.0" fill="#0000f5"/>
<circle cx="1311.4" cy="443.7" r="8.0" fill="#0000f5"/>
<circle cx="1333.3" cy="457.0" r="8.0" fill="#0000f5"/>
<circle cx="1311.4" cy="472.9" r="8.0" fill="#0000f5"/>
<circle cx="1324.0" cy="474.2" r="8.0" fill="#0000f5"/>
<circle cx="1334.0" cy="502.7" r="8.0" fill="#0000f5"/>
<circle cx="1310.8" cy="510.7" r="8.0" fill="#0000f5"/>
<rect x="1346.0" y="405.0" width="16.0" height="16.0" fill="#f50000"/>
<rect x="1356.0" y="410.0" width="16.0" height="16.0" fill="#f50000"/>
<rect x="1368.0" y="405.0" width="16.0" height="16.0" fill="#f50000"/>
<rect x="1378.0" y="410.0" width="16.0" height="16.0" fill="#f50000"/>
<rect x="1348.0" y="435.0" width="16.0" height="16.0" fill="#f50000"/>
<rect x="1360.0" y="442.0" width="16.0" height="16.0" fill="#f50000"/>
<rect x="1374.0" y="438.0" width="16.0" height="16.0" fill="#f50000"/>
<rect x="1350.0" y="454.0" width="16.0" height="16.0" fill="#f50000"/>
<rect x="1374.0" y="458.0" width="16.0" height="16.0" fill="#f50000"/>
<rect x="1361.8" y="496.7" width="16.0" height="16.0" fill="#f50000"/>
<rect x="1348.0" y="520.0" width="16.0" height="16.0" fill="#f50000"/>
<rect x="1376.0" y="522.0" width="16.0" height="16.0" fill="#f50000"/>
<rect x="1356.0" y="532.0" width="16.0" height="16.0" fill="#f50000"/>
<rect x="1370.0" y="538.0" width="16.0" height="16.0" fill="#f50000"/>
<rect x="1361.0" y="548.0" width="16.0" height="16.0" fill="#f50000"/>
<circle cx="1428.5" cy="209.7" r="8.0" fill="#000000"/>
<circle cx="1440.5" cy="209.7" r="8.0" fill="#000000"/>
<circle cx="1452.5" cy="209.7" r="8.0" fill="#000000"/>
<circle cx="1440.5" cy="220.3" r="8.0" fill="#000000"/>
<circle cx="1440.5" cy="290.7" r="8.0" fill="#000000"/>
<circle cx="1440.5" cy="340.4" r="8.0" fill="#000000"/>
<circle cx="1477.0" cy="209.7" r="8.0" fill="#838383"/>
<circle cx="1487.6" cy="209.7" r="8.0" fill="#838383"/>
<circle cx="1498.0" cy="209.7" r="8.0" fill="#838383"/>
<circle cx="1487.6" cy="274.7" r="8.0" fill="#838383"/>
<circle cx="1498.9" cy="294.6" r="8.0" fill="#838383"/>
<circle cx="1477.0" cy="308.0" r="8.0" fill="#838383"/>
<circle cx="1487.6" cy="317.2" r="8.0" fill="#838383"/>
<circle cx="1499.5" cy="337.0" r="8.0" fill="#838383"/>
<circle cx="1476.3" cy="346.0" r="8.0" fill="#838383"/>
<circle cx="1487.6" cy="375.2" r="8.0" fill="#838383"/>
<circle cx="1476.3" cy="416.3" r="8.0" fill="#838383"/>
<circle cx="1499.5" cy="432.9" r="8.0" fill="#838383"/>
<circle cx="1487.6" cy="488.0" r="8.0" fill="#838383"/>
<circle cx="1521.0" cy="209.7" r="8.0" fill="#0000f5"/>
<circle cx="1530.0" cy="209.7" r="8.0" fill="#0000f5"/>
<circle cx="1540.0" cy="209.7" r="8.0" fill="#0000f5"/>
<circle cx="1549.0" cy="209.7" r="8.0" fill="#0000f5"/>
<circle cx="1523.4" cy="236.3" r="8.0" fill="#0000f5"/>
<circle cx="1546.6" cy="236.3" r="8.0" fill="#0000f5"/>
<circle cx="1535.4" cy="288.0" r="8.0" fill="#0000f5"/>
<circle cx="1546.6" cy="304.6" r="8.0" fill="#0000f5"/>
<circle cx="1523.4" cy="325.2" r="8.0" fill="#0000f5"/>
<circle cx="1535.4" cy="357.7" r="8.0" fill="#0000f5"/>
<circle cx="1546.6" cy="385.8" r="8.0" fill="#0000f5"/>
<circle cx="1523.4" cy="398.4" r="8.0" fill="#0000f5"/>
<rect x="1562.5" y="276.7" width="16.0" height="16.0" fill="#f50000"/>
<rect x="1598.3" y="279.3" width="16.0" height="16.0" fill="#f50000"/>
<rect x="1586.4" y="292.0" width="16.0" height="16.0" fill="#f50000"/>
<rect x="1562.5" y="311.2" width="16.0" height="16.0" fill="#f50000"/>
<rect x="1575.0" y="377.8" width="16.0" height="16.0" fill="#f50000"/>
<rect x="1562.0" y="407.0" width="16.0" height="16.0" fill="#f50000"/>
<rect x="1575.0" y="407.0" width="16.0" height="16.0" fill="#f50000"/>
<rect x="1588.0" y="407.0" width="16.0" height="16.0" fill="#f50000"/>
<rect x="1564.0" y="421.0" width="16.0" height="16.0" fill="#f50000"/>
<rect x="1586.0" y="423.0" width="16.0" height="16.0" fill="#f50000"/>
<rect x="1567.0" y="432.0" width="16.0" height="16.0" fill="#f50000"/>
<rect x="1583.0" y="433.0" width="16.0" height="16.0" fill="#f50000"/>
<rect x="1574.5" y="464.7" width="16.0" height="16.0" fill="#f50000"/>
<rect x="1574.5" y="495.2" width="16.0" height="16.0" fill="#f50000"/>
<rect x="1574.5" y="531.0" width="16.0" height="16.0" fill="#f50000"/>
<line x1="1021.0" y1="518.0" x2="1021.0" y2="533.0" stroke="#000" stroke-width="4.5" stroke-linecap="butt"/>
<line x1="1007.0" y1="518.0" x2="1035.0" y2="518.0" stroke="#000" stroke-width="4.5" stroke-linecap="butt"/>
<line x1="1007.0" y1="533.0" x2="1035.0" y2="533.0" stroke="#000" stroke-width="4.5" stroke-linecap="butt"/>
<line x1="998.0" y1="525.9" x2="1044.0" y2="525.9" stroke="#000" stroke-width="3.5" stroke-linecap="butt"/>
<line x1="1063.0" y1="515.0" x2="1063.0" y2="542.1" stroke="#000" stroke-width="4.5" stroke-linecap="butt"/>
<line x1="1049.0" y1="515.0" x2="1077.0" y2="515.0" stroke="#000" stroke-width="4.5" stroke-linecap="butt"/>
<line x1="1049.0" y1="542.1" x2="1077.0" y2="542.1" stroke="#000" stroke-width="4.5" stroke-linecap="butt"/>
<line x1="1040.0" y1="528.6" x2="1086.0" y2="528.6" stroke="#000" stroke-width="3.5" stroke-linecap="butt"/>
<line x1="1110.6" y1="506.3" x2="1110.6" y2="528.0" stroke="#000" stroke-width="4.5" stroke-linecap="butt"/>
<line x1="1096.6" y1="506.3" x2="1124.6" y2="506.3" stroke="#000" stroke-width="4.5" stroke-linecap="butt"/>
<line x1="1096.6" y1="528.0" x2="1124.6" y2="528.0" stroke="#000" stroke-width="4.5" stroke-linecap="butt"/>
<line x1="1087.6" y1="516.0" x2="1133.6" y2="516.0" stroke="#000" stroke-width="3.5" stroke-linecap="butt"/>
<line x1="1157.0" y1="524.8" x2="1157.0" y2="548.7" stroke="#000" stroke-width="4.5" stroke-linecap="butt"/>
<line x1="1143.0" y1="524.8" x2="1171.0" y2="524.8" stroke="#000" stroke-width="4.5" stroke-linecap="butt"/>
<line x1="1143.0" y1="548.7" x2="1171.0" y2="548.7" stroke="#000" stroke-width="4.5" stroke-linecap="butt"/>
<line x1="1134.0" y1="536.7" x2="1180.0" y2="536.7" stroke="#000" stroke-width="3.5" stroke-linecap="butt"/>
<line x1="1228.5" y1="345.2" x2="1228.5" y2="481.5" stroke="#000" stroke-width="4.5" stroke-linecap="butt"/>
<line x1="1214.5" y1="345.2" x2="1242.5" y2="345.2" stroke="#000" stroke-width="4.5" stroke-linecap="butt"/>
<line x1="1214.5" y1="481.5" x2="1242.5" y2="481.5" stroke="#000" stroke-width="4.5" stroke-linecap="butt"/>
<line x1="1205.5" y1="412.5" x2="1251.5" y2="412.5" stroke="#000" stroke-width="3.5" stroke-linecap="butt"/>
<line x1="1275.6" y1="307.4" x2="1275.6" y2="469.0" stroke="#000" stroke-width="4.5" stroke-linecap="butt"/>
<line x1="1261.6" y1="307.4" x2="1289.6" y2="307.4" stroke="#000" stroke-width="4.5" stroke-linecap="butt"/>
<line x1="1261.6" y1="469.0" x2="1289.6" y2="469.0" stroke="#000" stroke-width="4.5" stroke-linecap="butt"/>
<line x1="1252.6" y1="387.7" x2="1298.6" y2="387.7" stroke="#000" stroke-width="3.5" stroke-linecap="butt"/>
<line x1="1322.7" y1="307.4" x2="1322.7" y2="479.5" stroke="#000" stroke-width="4.5" stroke-linecap="butt"/>
<line x1="1308.7" y1="307.4" x2="1336.7" y2="307.4" stroke="#000" stroke-width="4.5" stroke-linecap="butt"/>
<line x1="1308.7" y1="479.5" x2="1336.7" y2="479.5" stroke="#000" stroke-width="4.5" stroke-linecap="butt"/>
<line x1="1299.7" y1="393.0" x2="1345.7" y2="393.0" stroke="#000" stroke-width="3.5" stroke-linecap="butt"/>
<line x1="1369.8" y1="430.4" x2="1369.8" y2="523.3" stroke="#000" stroke-width="4.5" stroke-linecap="butt"/>
<line x1="1355.8" y1="430.4" x2="1383.8" y2="430.4" stroke="#000" stroke-width="4.5" stroke-linecap="butt"/>
<line x1="1355.8" y1="523.3" x2="1383.8" y2="523.3" stroke="#000" stroke-width="4.5" stroke-linecap="butt"/>
<line x1="1346.8" y1="476.9" x2="1392.8" y2="476.9" stroke="#000" stroke-width="3.5" stroke-linecap="butt"/>
<line x1="1440.5" y1="187.2" x2="1440.5" y2="282.0" stroke="#000" stroke-width="4.5" stroke-linecap="butt"/>
<line x1="1426.5" y1="187.2" x2="1454.5" y2="187.2" stroke="#000" stroke-width="4.5" stroke-linecap="butt"/>
<line x1="1426.5" y1="282.0" x2="1454.5" y2="282.0" stroke="#000" stroke-width="4.5" stroke-linecap="butt"/>
<line x1="1417.5" y1="234.3" x2="1463.5" y2="234.3" stroke="#000" stroke-width="3.5" stroke-linecap="butt"/>
<line x1="1487.6" y1="224.3" x2="1487.6" y2="406.3" stroke="#000" stroke-width="4.5" stroke-linecap="butt"/>
<line x1="1473.6" y1="224.3" x2="1501.6" y2="224.3" stroke="#000" stroke-width="4.5" stroke-linecap="butt"/>
<line x1="1473.6" y1="406.3" x2="1501.6" y2="406.3" stroke="#000" stroke-width="4.5" stroke-linecap="butt"/>
<line x1="1464.6" y1="315.2" x2="1510.6" y2="315.2" stroke="#000" stroke-width="3.5" stroke-linecap="butt"/>
<line x1="1535.4" y1="193.8" x2="1535.4" y2="333.1" stroke="#000" stroke-width="4.5" stroke-linecap="butt"/>
<line x1="1521.4" y1="193.8" x2="1549.4" y2="193.8" stroke="#000" stroke-width="4.5" stroke-linecap="butt"/>
<line x1="1521.4" y1="333.1" x2="1549.4" y2="333.1" stroke="#000" stroke-width="4.5" stroke-linecap="butt"/>
<line x1="1512.4" y1="263.5" x2="1558.4" y2="263.5" stroke="#000" stroke-width="3.5" stroke-linecap="butt"/>
<line x1="1583.0" y1="327.8" x2="1583.0" y2="482.6" stroke="#000" stroke-width="4.5" stroke-linecap="butt"/>
<line x1="1569.0" y1="327.8" x2="1597.0" y2="327.8" stroke="#000" stroke-width="4.5" stroke-linecap="butt"/>
<line x1="1569.0" y1="482.6" x2="1597.0" y2="482.6" stroke="#000" stroke-width="4.5" stroke-linecap="butt"/>
<line x1="1560.0" y1="405.7" x2="1606.0" y2="405.7" stroke="#000" stroke-width="3.5" stroke-linecap="butt"/>
<path d="M980.8,145.0 L980.8,572.0 L1615.0,572.0" fill="none" stroke="#000" stroke-width="5.5" stroke-linejoin="miter" stroke-linecap="square"/>
<line x1="965.8" y1="572.0" x2="980.8" y2="572.0" stroke="#000" stroke-width="5.5" stroke-linecap="butt"/>
<text x="963.8" y="583.9" style="font-family:'Liberation Sans',Arial,sans-serif;font-size:33px;font-weight:bold" text-anchor="end" fill="#000" >0</text>
<line x1="965.8" y1="465.9" x2="980.8" y2="465.9" stroke="#000" stroke-width="5.5" stroke-linecap="butt"/>
<text x="963.8" y="477.8" style="font-family:'Liberation Sans',Arial,sans-serif;font-size:33px;font-weight:bold" text-anchor="end" fill="#000" >2</text>
<line x1="965.8" y1="359.8" x2="980.8" y2="359.8" stroke="#000" stroke-width="5.5" stroke-linecap="butt"/>
<text x="963.8" y="371.6" style="font-family:'Liberation Sans',Arial,sans-serif;font-size:33px;font-weight:bold" text-anchor="end" fill="#000" >4</text>
<line x1="965.8" y1="253.6" x2="980.8" y2="253.6" stroke="#000" stroke-width="5.5" stroke-linecap="butt"/>
<text x="963.8" y="265.5" style="font-family:'Liberation Sans',Arial,sans-serif;font-size:33px;font-weight:bold" text-anchor="end" fill="#000" >6</text>
<line x1="965.8" y1="147.5" x2="980.8" y2="147.5" stroke="#000" stroke-width="5.5" stroke-linecap="butt"/>
<text x="963.8" y="159.4" style="font-family:'Liberation Sans',Arial,sans-serif;font-size:33px;font-weight:bold" text-anchor="end" fill="#000" >8</text>
<line x1="1087.0" y1="572.0" x2="1087.0" y2="589.0" stroke="#000" stroke-width="5.5" stroke-linecap="butt"/>
<text x="0" y="0" style="font-family:'Liberation Sans',Arial,sans-serif;font-size:33px;font-weight:normal" text-anchor="end" dominant-baseline="central" stroke="#000" stroke-width="1.1" transform="translate(1087.0,602.5) rotate(-45)">8</text>
<line x1="1299.0" y1="572.0" x2="1299.0" y2="589.0" stroke="#000" stroke-width="5.5" stroke-linecap="butt"/>
<text x="0" y="0" style="font-family:'Liberation Sans',Arial,sans-serif;font-size:33px;font-weight:normal" text-anchor="end" dominant-baseline="central" stroke="#000" stroke-width="1.1" transform="translate(1299.0,602.5) rotate(-45)">22</text>
<line x1="1511.4" y1="572.0" x2="1511.4" y2="589.0" stroke="#000" stroke-width="5.5" stroke-linecap="butt"/>
<text x="0" y="0" style="font-family:'Liberation Sans',Arial,sans-serif;font-size:33px;font-weight:normal" text-anchor="end" dominant-baseline="central" stroke="#000" stroke-width="1.1" transform="translate(1511.4,602.5) rotate(-45)">27</text>
<path d="M1019.0,357.5 L1019.0,352.0 L1110.0,352.0 L1110.0,357.5" fill="none" stroke="#000" stroke-width="5.5" stroke-linejoin="round" stroke-linecap="round"/>
<text x="1062.7" y="343.3" style="font-family:'Liberation Sans',Arial,sans-serif;font-size:35px;font-weight:normal" text-anchor="middle" fill="#000" >0.002</text>
<path d="M1064.5,409.3 L1064.5,403.3 L1155.6,403.3 L1155.6,409.3" fill="none" stroke="#000" stroke-width="5.5" stroke-linejoin="round" stroke-linecap="round"/>
<text x="1107.6" y="396.4" style="font-family:'Liberation Sans',Arial,sans-serif;font-size:35px;font-weight:normal" text-anchor="middle" fill="#000" >0.116</text>
<path d="M1111.0,460.5 L1111.0,454.5 L1163.5,454.5 L1163.5,460.5" fill="none" stroke="#000" stroke-width="5.5" stroke-linejoin="round" stroke-linecap="round"/>
<text x="1125.7" y="447.1" style="font-family:'Liberation Sans',Arial,sans-serif;font-size:35px;font-weight:normal" text-anchor="middle" fill="#000" >&lt;0.0001</text>
<path d="M1225.0,84.0 L1225.0,79.0 L1315.0,79.0 L1315.0,84.0" fill="none" stroke="#000" stroke-width="5.5" stroke-linejoin="round" stroke-linecap="round"/>
<text x="1269.4" y="71.3" style="font-family:'Liberation Sans',Arial,sans-serif;font-size:35px;font-weight:normal" text-anchor="middle" fill="#000" >0.772</text>
<path d="M1275.6,135.3 L1275.6,130.3 L1363.0,130.3 L1363.0,135.3" fill="none" stroke="#000" stroke-width="5.5" stroke-linejoin="round" stroke-linecap="round"/>
<text x="1319.3" y="122.6" style="font-family:'Liberation Sans',Arial,sans-serif;font-size:35px;font-weight:normal" text-anchor="middle" fill="#000" >0.001</text>
<path d="M1323.5,184.3 L1323.5,178.8 L1375.5,178.8 L1375.5,184.3" fill="none" stroke="#000" stroke-width="5.5" stroke-linejoin="round" stroke-linecap="round"/>
<text x="1352.2" y="171.2" style="font-family:'Liberation Sans',Arial,sans-serif;font-size:35px;font-weight:normal" text-anchor="middle" fill="#000" >0.008</text>
<path d="M1435.0,86.7 L1435.0,81.7 L1524.4,81.7 L1524.4,86.7" fill="none" stroke="#000" stroke-width="5.5" stroke-linejoin="round" stroke-linecap="round"/>
<text x="1478.0" y="71.3" style="font-family:'Liberation Sans',Arial,sans-serif;font-size:35px;font-weight:normal" text-anchor="middle" fill="#000" >0.273</text>
<path d="M1498.8,135.1 L1498.8,129.6 L1593.1,129.6 L1593.1,135.1" fill="none" stroke="#000" stroke-width="5.5" stroke-linejoin="round" stroke-linecap="round"/>
<text x="1548.3" y="122.0" style="font-family:'Liberation Sans',Arial,sans-serif;font-size:35px;font-weight:normal" text-anchor="middle" fill="#000" >0.009</text>
<path d="M1538.3,182.4 L1538.3,177.4 L1591.7,177.4 L1591.7,182.4" fill="none" stroke="#000" stroke-width="5.5" stroke-linejoin="round" stroke-linecap="round"/>
<text x="1560.4" y="169.8" style="font-family:'Liberation Sans',Arial,sans-serif;font-size:35px;font-weight:normal" text-anchor="middle" fill="#000" >&lt;0.0001</text>
<text x="1300.3" y="689.0" style="font-family:'Liberation Sans',Arial,sans-serif;font-size:34px;font-weight:bold" text-anchor="middle" fill="#000" textLength="214" lengthAdjust="spacingAndGlyphs" >Time (weeks)</text>
<text x="0" y="0" style="font-family:'Liberation Sans',Arial,sans-serif;font-size:36px;font-weight:bold" text-anchor="middle" transform="translate(905.0,360.0) rotate(-90)">Insulin (ng/ml)</text>
<circle cx="173.0" cy="1052.5" r="8.0" fill="#000000"/>
<circle cx="172.0" cy="1066.0" r="8.0" fill="#000000"/>
<circle cx="185.0" cy="1064.0" r="8.0" fill="#000000"/>
<circle cx="198.0" cy="1067.0" r="8.0" fill="#000000"/>
<circle cx="178.0" cy="1071.0" r="8.0" fill="#000000"/>
<circle cx="193.0" cy="1072.0" r="8.0" fill="#000000"/>
<circle cx="171.0" cy="1077.0" r="8.0" fill="#000000"/>
<circle cx="186.0" cy="1078.0" r="8.0" fill="#000000"/>
<circle cx="199.0" cy="1079.0" r="8.0" fill="#000000"/>
<circle cx="178.0" cy="1084.0" r="8.0" fill="#000000"/>
<circle cx="193.0" cy="1085.0" r="8.0" fill="#000000"/>
<circle cx="184.0" cy="1090.0" r="8.0" fill="#000000"/>
<circle cx="176.0" cy="1095.0" r="8.0" fill="#000000"/>
<circle cx="192.0" cy="1096.0" r="8.0" fill="#000000"/>
<circle cx="184.0" cy="1101.0" r="8.0" fill="#000000"/>
<circle cx="243.5" cy="1020.0" r="8.0" fill="#838383"/>
<circle cx="220.3" cy="1037.3" r="8.0" fill="#838383"/>
<circle cx="220.3" cy="1054.5" r="8.0" fill="#838383"/>
<circle cx="242.9" cy="1051.2" r="8.0" fill="#838383"/>
<circle cx="220.3" cy="1073.0" r="8.0" fill="#838383"/>
<circle cx="242.9" cy="1082.4" r="8.0" fill="#838383"/>
<circle cx="222.0" cy="1086.0" r="8.0" fill="#838383"/>
<circle cx="231.0" cy="1097.0" r="8.0" fill="#838383"/>
<circle cx="242.9" cy="1103.6" r="8.0" fill="#838383"/>
<circle cx="220.3" cy="1119.5" r="8.0" fill="#838383"/>
<circle cx="232.3" cy="1126.0" r="8.0" fill="#838383"/>
<circle cx="232.3" cy="1156.7" r="8.0" fill="#838383"/>
<circle cx="240.0" cy="1068.0" r="8.0" fill="#838383"/>
<circle cx="267.4" cy="1013.2" r="8.0" fill="#0000f5"/>
<circle cx="289.3" cy="1021.2" r="8.0" fill="#0000f5"/>
<circle cx="279.4" cy="1027.8" r="8.0" fill="#0000f5"/>
<circle cx="266.0" cy="1049.9" r="8.0" fill="#0000f5"/>
<circle cx="291.3" cy="1049.9" r="8.0" fill="#0000f5"/>
<circle cx="265.4" cy="1065.0" r="8.0" fill="#0000f5"/>
<circle cx="290.7" cy="1066.4" r="8.0" fill="#0000f5"/>
<circle cx="278.0" cy="1075.7" r="8.0" fill="#0000f5"/>
<circle cx="278.7" cy="1092.3" r="8.0" fill="#0000f5"/>
<circle cx="279.0" cy="1058.0" r="8.0" fill="#0000f5"/>
<rect x="319.1" y="1010.5" width="16.0" height="16.0" fill="#f50000"/>
<rect x="319.1" y="1046.0" width="16.0" height="16.0" fill="#f50000"/>
<rect x="335.1" y="1050.0" width="16.0" height="16.0" fill="#f50000"/>
<rect x="311.1" y="1056.0" width="16.0" height="16.0" fill="#f50000"/>
<rect x="327.1" y="1062.0" width="16.0" height="16.0" fill="#f50000"/>
<rect x="303.1" y="1068.0" width="16.0" height="16.0" fill="#f50000"/>
<rect x="319.1" y="1073.0" width="16.0" height="16.0" fill="#f50000"/>
<rect x="335.1" y="1079.0" width="16.0" height="16.0" fill="#f50000"/>
<rect x="311.1" y="1084.0" width="16.0" height="16.0" fill="#f50000"/>
<rect x="327.1" y="1090.0" width="16.0" height="16.0" fill="#f50000"/>
<rect x="303.1" y="1096.0" width="16.0" height="16.0" fill="#f50000"/>
<rect x="319.1" y="1102.0" width="16.0" height="16.0" fill="#f50000"/>
<rect x="335.1" y="1108.0" width="16.0" height="16.0" fill="#f50000"/>
<rect x="311.1" y="1114.0" width="16.0" height="16.0" fill="#f50000"/>
<rect x="327.1" y="1123.0" width="16.0" height="16.0" fill="#f50000"/>
<circle cx="408.5" cy="974.3" r="8.0" fill="#000000"/>
<circle cx="384.6" cy="982.3" r="8.0" fill="#000000"/>
<circle cx="393.9" cy="990.2" r="8.0" fill="#000000"/>
<circle cx="409.1" cy="994.2" r="8.0" fill="#000000"/>
<circle cx="396.0" cy="1000.0" r="8.0" fill="#000000"/>
<circle cx="402.5" cy="1010.0" r="8.0" fill="#000000"/>
<circle cx="386.0" cy="1008.0" r="8.0" fill="#000000"/>
<circle cx="384.6" cy="1024.0" r="8.0" fill="#000000"/>
<circle cx="408.5" cy="1024.7" r="8.0" fill="#000000"/>
<circle cx="396.5" cy="1039.3" r="8.0" fill="#000000"/>
<circle cx="431.0" cy="1000.8" r="8.0" fill="#838383"/>
<circle cx="456.9" cy="998.9" r="8.0" fill="#838383"/>
<circle cx="431.0" cy="1019.4" r="8.0" fill="#838383"/>
<circle cx="456.0" cy="1015.0" r="8.0" fill="#838383"/>
<circle cx="432.4" cy="1035.4" r="8.0" fill="#838383"/>
<circle cx="456.3" cy="1035.4" r="8.0" fill="#838383"/>
<circle cx="444.0" cy="1045.0" r="8.0" fill="#838383"/>
<circle cx="457.6" cy="1056.6" r="8.0" fill="#838383"/>
<circle cx="431.0" cy="1068.5" r="8.0" fill="#838383"/>
<circle cx="440.3" cy="1076.5" r="8.0" fill="#838383"/>
<circle cx="452.3" cy="1072.5" r="8.0" fill="#838383"/>
<circle cx="432.0" cy="1052.0" r="8.0" fill="#838383"/>
<circle cx="490.8" cy="914.6" r="8.0" fill="#0000f5"/>
<circle cx="490.8" cy="958.4" r="8.0" fill="#0000f5"/>
<circle cx="477.5" cy="977.0" r="8.0" fill="#0000f5"/>
<circle cx="503.4" cy="981.0" r="8.0" fill="#0000f5"/>
<circle cx="482.0" cy="990.0" r="8.0" fill="#0000f5"/>
<circle cx="478.8" cy="1002.2" r="8.0" fill="#0000f5"/>
<circle cx="504.0" cy="1000.8" r="8.0" fill="#0000f5"/>
<circle cx="479.5" cy="1022.0" r="8.0" fill="#0000f5"/>
<circle cx="501.4" cy="1020.8" r="8.0" fill="#0000f5"/>
<circle cx="491.0" cy="1030.0" r="8.0" fill="#0000f5"/>
<circle cx="480.1" cy="1050.0" r="8.0" fill="#0000f5"/>
<circle cx="490.8" cy="1044.6" r="8.0" fill="#0000f5"/>
<circle cx="501.4" cy="1063.2" r="8.0" fill="#0000f5"/>
<circle cx="490.8" cy="1072.5" r="8.0" fill="#0000f5"/>
<rect x="518.6" y="986.2" width="16.0" height="16.0" fill="#f50000"/>
<rect x="541.8" y="995.5" width="16.0" height="16.0" fill="#f50000"/>
<rect x="517.3" y="1030.0" width="16.0" height="16.0" fill="#f50000"/>
<rect x="543.8" y="1030.0" width="16.0" height="16.0" fill="#f50000"/>
<rect x="522.0" y="1044.0" width="16.0" height="16.0" fill="#f50000"/>
<rect x="540.0" y="1048.0" width="16.0" height="16.0" fill="#f50000"/>
<rect x="524.0" y="1058.0" width="16.0" height="16.0" fill="#f50000"/>
<rect x="538.0" y="1062.0" width="16.0" height="16.0" fill="#f50000"/>
<rect x="526.0" y="1072.0" width="16.0" height="16.0" fill="#f50000"/>
<rect x="536.0" y="1078.0" width="16.0" height="16.0" fill="#f50000"/>
<rect x="531.0" y="1088.0" width="16.0" height="16.0" fill="#f50000"/>
<rect x="542.5" y="1103.0" width="16.0" height="16.0" fill="#f50000"/>
<rect x="517.3" y="1107.0" width="16.0" height="16.0" fill="#f50000"/>
<circle cx="596.0" cy="949.7" r="8.0" fill="#000000"/>
<circle cx="621.1" cy="948.4" r="8.0" fill="#000000"/>
<circle cx="613.2" cy="965.6" r="8.0" fill="#000000"/>
<circle cx="601.2" cy="975.0" r="8.0" fill="#000000"/>
<circle cx="611.8" cy="982.9" r="8.0" fill="#000000"/>
<circle cx="623.8" cy="984.2" r="8.0" fill="#000000"/>
<circle cx="603.2" cy="993.5" r="8.0" fill="#000000"/>
<circle cx="613.2" cy="998.8" r="8.0" fill="#000000"/>
<circle cx="608.5" cy="1041.3" r="8.0" fill="#000000"/>
<circle cx="644.4" cy="953.0" r="8.0" fill="#838383"/>
<circle cx="679.5" cy="952.4" r="8.0" fill="#838383"/>
<circle cx="667.6" cy="969.6" r="8.0" fill="#838383"/>
<circle cx="643.7" cy="982.9" r="8.0" fill="#838383"/>
<circle cx="643.7" cy="993.5" r="8.0" fill="#838383"/>
<circle cx="667.6" cy="997.5" r="8.0" fill="#838383"/>
<circle cx="650.3" cy="1009.4" r="8.0" fill="#838383"/>
<circle cx="662.3" cy="1013.4" r="8.0" fill="#838383"/>
<circle cx="643.7" cy="1046.6" r="8.0" fill="#838383"/>
<circle cx="667.6" cy="1045.3" r="8.0" fill="#838383"/>
<circle cx="652.0" cy="1052.0" r="8.0" fill="#838383"/>
<circle cx="645.0" cy="1073.0" r="8.0" fill="#838383"/>
<circle cx="666.3" cy="1072.5" r="8.0" fill="#838383"/>
<circle cx="655.6" cy="1093.7" r="8.0" fill="#838383"/>
<circle cx="655.6" cy="1094.4" r="8.0" fill="#838383"/>
<circle cx="655.6" cy="1127.0" r="8.0" fill="#838383"/>
<circle cx="691.5" cy="917.9" r="8.0" fill="#0000f5"/>
<circle cx="714.7" cy="906.6" r="8.0" fill="#0000f5"/>
<circle cx="691.5" cy="963.6" r="8.0" fill="#0000f5"/>
<circle cx="714.7" cy="972.9" r="8.0" fill="#0000f5"/>
<circle cx="692.1" cy="988.2" r="8.0" fill="#0000f5"/>
<circle cx="714.0" cy="989.5" r="8.0" fill="#0000f5"/>
<circle cx="698.0" cy="999.0" r="8.0" fill="#0000f5"/>
<circle cx="704.7" cy="1009.4" r="8.0" fill="#0000f5"/>
<circle cx="690.1" cy="1027.3" r="8.0" fill="#0000f5"/>
<circle cx="716.0" cy="1037.3" r="8.0" fill="#0000f5"/>
<circle cx="696.8" cy="1045.3" r="8.0" fill="#0000f5"/>
<circle cx="708.0" cy="1047.9" r="8.0" fill="#0000f5"/>
<circle cx="702.7" cy="1079.8" r="8.0" fill="#0000f5"/>
<rect x="741.9" y="916.5" width="16.0" height="16.0" fill="#f50000"/>
<rect x="754.5" y="966.3" width="16.0" height="16.0" fill="#f50000"/>
<rect x="730.6" y="973.6" width="16.0" height="16.0" fill="#f50000"/>
<rect x="729.9" y="1026.0" width="16.0" height="16.0" fill="#f50000"/>
<rect x="755.8" y="1028.0" width="16.0" height="16.0" fill="#f50000"/>
<rect x="736.0" y="1044.0" width="16.0" height="16.0" fill="#f50000"/>
<rect x="750.0" y="1048.0" width="16.0" height="16.0" fill="#f50000"/>
<rect x="729.9" y="1083.8" width="16.0" height="16.0" fill="#f50000"/>
<rect x="754.5" y="1083.8" width="16.0" height="16.0" fill="#f50000"/>
<rect x="730.6" y="1098.3" width="16.0" height="16.0" fill="#f50000"/>
<rect x="766.4" y="1115.6" width="16.0" height="16.0" fill="#f50000"/>
<rect x="753.8" y="1121.0" width="16.0" height="16.0" fill="#f50000"/>
<rect x="730.6" y="1142.8" width="16.0" height="16.0" fill="#f50000"/>
<line x1="185.0" y1="1072.0" x2="185.0" y2="1088.0" stroke="#000" stroke-width="5" stroke-linecap="butt"/>
<line x1="171.0" y1="1072.0" x2="199.0" y2="1072.0" stroke="#000" stroke-width="5" stroke-linecap="butt"/>
<line x1="171.0" y1="1088.0" x2="199.0" y2="1088.0" stroke="#000" stroke-width="5" stroke-linecap="butt"/>
<line x1="162.0" y1="1079.7" x2="208.0" y2="1079.7" stroke="#000" stroke-width="5" stroke-linecap="butt"/>
<line x1="232.0" y1="1045.9" x2="232.0" y2="1114.9" stroke="#000" stroke-width="5" stroke-linecap="butt"/>
<line x1="218.0" y1="1045.9" x2="246.0" y2="1045.9" stroke="#000" stroke-width="5" stroke-linecap="butt"/>
<line x1="218.0" y1="1114.9" x2="246.0" y2="1114.9" stroke="#000" stroke-width="5" stroke-linecap="butt"/>
<line x1="209.0" y1="1080.4" x2="255.0" y2="1080.4" stroke="#000" stroke-width="5" stroke-linecap="butt"/>
<line x1="279.0" y1="1036.0" x2="279.0" y2="1077.7" stroke="#000" stroke-width="5" stroke-linecap="butt"/>
<line x1="265.0" y1="1036.0" x2="293.0" y2="1036.0" stroke="#000" stroke-width="5" stroke-linecap="butt"/>
<line x1="265.0" y1="1077.7" x2="293.0" y2="1077.7" stroke="#000" stroke-width="5" stroke-linecap="butt"/>
<line x1="256.0" y1="1056.5" x2="302.0" y2="1056.5" stroke="#000" stroke-width="5" stroke-linecap="butt"/>
<line x1="327.1" y1="1055.8" x2="327.1" y2="1118.2" stroke="#000" stroke-width="5" stroke-linecap="butt"/>
<line x1="313.1" y1="1055.8" x2="341.1" y2="1055.8" stroke="#000" stroke-width="5" stroke-linecap="butt"/>
<line x1="313.1" y1="1118.2" x2="341.1" y2="1118.2" stroke="#000" stroke-width="5" stroke-linecap="butt"/>
<line x1="304.1" y1="1087.0" x2="350.1" y2="1087.0" stroke="#000" stroke-width="5" stroke-linecap="butt"/>
<line x1="396.8" y1="992.0" x2="396.8" y2="1018.0" stroke="#000" stroke-width="5" stroke-linecap="butt"/>
<line x1="382.8" y1="992.0" x2="410.8" y2="992.0" stroke="#000" stroke-width="5" stroke-linecap="butt"/>
<line x1="382.8" y1="1018.0" x2="410.8" y2="1018.0" stroke="#000" stroke-width="5" stroke-linecap="butt"/>
<line x1="373.8" y1="1004.8" x2="419.8" y2="1004.8" stroke="#000" stroke-width="5" stroke-linecap="butt"/>
<line x1="444.0" y1="1011.5" x2="444.0" y2="1066.5" stroke="#000" stroke-width="5" stroke-linecap="butt"/>
<line x1="430.0" y1="1011.5" x2="458.0" y2="1011.5" stroke="#000" stroke-width="5" stroke-linecap="butt"/>
<line x1="430.0" y1="1066.5" x2="458.0" y2="1066.5" stroke="#000" stroke-width="5" stroke-linecap="butt"/>
<line x1="421.0" y1="1038.7" x2="467.0" y2="1038.7" stroke="#000" stroke-width="5" stroke-linecap="butt"/>
<line x1="491.0" y1="967.0" x2="491.0" y2="1048.0" stroke="#000" stroke-width="5" stroke-linecap="butt"/>
<line x1="477.0" y1="967.0" x2="505.0" y2="967.0" stroke="#000" stroke-width="5" stroke-linecap="butt"/>
<line x1="477.0" y1="1048.0" x2="505.0" y2="1048.0" stroke="#000" stroke-width="5" stroke-linecap="butt"/>
<line x1="468.0" y1="1006.8" x2="514.0" y2="1006.8" stroke="#000" stroke-width="5" stroke-linecap="butt"/>
<line x1="539.0" y1="1025.4" x2="539.0" y2="1095.0" stroke="#000" stroke-width="5" stroke-linecap="butt"/>
<line x1="525.0" y1="1025.4" x2="553.0" y2="1025.4" stroke="#000" stroke-width="5" stroke-linecap="butt"/>
<line x1="525.0" y1="1095.0" x2="553.0" y2="1095.0" stroke="#000" stroke-width="5" stroke-linecap="butt"/>
<line x1="516.0" y1="1059.9" x2="562.0" y2="1059.9" stroke="#000" stroke-width="5" stroke-linecap="butt"/>
<line x1="608.5" y1="951.7" x2="608.5" y2="1010.0" stroke="#000" stroke-width="5" stroke-linecap="butt"/>
<line x1="594.5" y1="951.7" x2="622.5" y2="951.7" stroke="#000" stroke-width="5" stroke-linecap="butt"/>
<line x1="594.5" y1="1010.0" x2="622.5" y2="1010.0" stroke="#000" stroke-width="5" stroke-linecap="butt"/>
<line x1="585.5" y1="980.6" x2="631.5" y2="980.6" stroke="#000" stroke-width="5" stroke-linecap="butt"/>
<line x1="656.3" y1="976.3" x2="656.3" y2="1078.4" stroke="#000" stroke-width="5" stroke-linecap="butt"/>
<line x1="642.3" y1="976.3" x2="670.3" y2="976.3" stroke="#000" stroke-width="5" stroke-linecap="butt"/>
<line x1="642.3" y1="1078.4" x2="670.3" y2="1078.4" stroke="#000" stroke-width="5" stroke-linecap="butt"/>
<line x1="633.3" y1="1027.3" x2="679.3" y2="1027.3" stroke="#000" stroke-width="5" stroke-linecap="butt"/>
<line x1="703.0" y1="954.4" x2="703.0" y2="1043.9" stroke="#000" stroke-width="5" stroke-linecap="butt"/>
<line x1="689.0" y1="954.4" x2="717.0" y2="954.4" stroke="#000" stroke-width="5" stroke-linecap="butt"/>
<line x1="689.0" y1="1043.9" x2="717.0" y2="1043.9" stroke="#000" stroke-width="5" stroke-linecap="butt"/>
<line x1="680.0" y1="999.5" x2="726.0" y2="999.5" stroke="#000" stroke-width="5" stroke-linecap="butt"/>
<line x1="750.5" y1="999.5" x2="750.5" y2="1126.3" stroke="#000" stroke-width="5" stroke-linecap="butt"/>
<line x1="736.5" y1="999.5" x2="764.5" y2="999.5" stroke="#000" stroke-width="5" stroke-linecap="butt"/>
<line x1="736.5" y1="1126.3" x2="764.5" y2="1126.3" stroke="#000" stroke-width="5" stroke-linecap="butt"/>
<line x1="727.5" y1="1063.0" x2="773.5" y2="1063.0" stroke="#000" stroke-width="5" stroke-linecap="butt"/>
<path d="M149.3,877.0 L149.3,1303.8 L784.0,1303.8" fill="none" stroke="#000" stroke-width="5.5" stroke-linejoin="miter" stroke-linecap="square"/>
<line x1="134.3" y1="1303.8" x2="149.3" y2="1303.8" stroke="#000" stroke-width="5.5" stroke-linecap="butt"/>
<text x="132.3" y="1315.7" style="font-family:'Liberation Sans',Arial,sans-serif;font-size:33px;font-weight:bold" text-anchor="end" fill="#000" >0</text>
<line x1="134.3" y1="1197.6" x2="149.3" y2="1197.6" stroke="#000" stroke-width="5.5" stroke-linecap="butt"/>
<text x="132.3" y="1209.5" style="font-family:'Liberation Sans',Arial,sans-serif;font-size:33px;font-weight:bold" text-anchor="end" fill="#000" >5</text>
<line x1="134.3" y1="1091.5" x2="149.3" y2="1091.5" stroke="#000" stroke-width="5.5" stroke-linecap="butt"/>
<text x="132.3" y="1103.4" style="font-family:'Liberation Sans',Arial,sans-serif;font-size:33px;font-weight:bold" text-anchor="end" fill="#000" >10</text>
<line x1="134.3" y1="985.3" x2="149.3" y2="985.3" stroke="#000" stroke-width="5.5" stroke-linecap="butt"/>
<text x="132.3" y="997.2" style="font-family:'Liberation Sans',Arial,sans-serif;font-size:33px;font-weight:bold" text-anchor="end" fill="#000" >15</text>
<line x1="134.3" y1="879.2" x2="149.3" y2="879.2" stroke="#000" stroke-width="5.5" stroke-linecap="butt"/>
<text x="132.3" y="891.1" style="font-family:'Liberation Sans',Arial,sans-serif;font-size:33px;font-weight:bold" text-anchor="end" fill="#000" >20</text>
<line x1="255.5" y1="1303.8" x2="255.5" y2="1320.8" stroke="#000" stroke-width="5.5" stroke-linecap="butt"/>
<text x="0" y="0" style="font-family:'Liberation Sans',Arial,sans-serif;font-size:33px;font-weight:normal" text-anchor="end" dominant-baseline="central" stroke="#000" stroke-width="1.1" transform="translate(255.5,1334.3) rotate(-45)">8</text>
<line x1="467.4" y1="1303.8" x2="467.4" y2="1320.8" stroke="#000" stroke-width="5.5" stroke-linecap="butt"/>
<text x="0" y="0" style="font-family:'Liberation Sans',Arial,sans-serif;font-size:33px;font-weight:normal" text-anchor="end" dominant-baseline="central" stroke="#000" stroke-width="1.1" transform="translate(467.4,1334.3) rotate(-45)">22</text>
<line x1="679.6" y1="1303.8" x2="679.6" y2="1320.8" stroke="#000" stroke-width="5.5" stroke-linecap="butt"/>
<text x="0" y="0" style="font-family:'Liberation Sans',Arial,sans-serif;font-size:33px;font-weight:normal" text-anchor="end" dominant-baseline="central" stroke="#000" stroke-width="1.1" transform="translate(679.6,1334.3) rotate(-45)">27</text>
<path d="M185.2,903.6 L185.2,899.1 L264.1,899.1 L264.1,903.6" fill="none" stroke="#000" stroke-width="5.5" stroke-linejoin="round" stroke-linecap="round"/>
<text x="224.3" y="889.8" style="font-family:'Liberation Sans',Arial,sans-serif;font-size:35px;font-weight:normal" text-anchor="middle" fill="#000" >0.004</text>
<path d="M235.6,950.5 L235.6,945.5 L323.8,945.5 L323.8,950.5" fill="none" stroke="#000" stroke-width="5.5" stroke-linejoin="round" stroke-linecap="round"/>
<text x="281.0" y="937.6" style="font-family:'Liberation Sans',Arial,sans-serif;font-size:35px;font-weight:normal" text-anchor="middle" fill="#000" >0.423</text>
<path d="M282.0,996.5 L282.0,992.0 L334.4,992.0 L334.4,996.5" fill="none" stroke="#000" stroke-width="5.5" stroke-linejoin="round" stroke-linecap="round"/>
<text x="306.2" y="985.4" style="font-family:'Liberation Sans',Arial,sans-serif;font-size:35px;font-weight:normal" text-anchor="middle" fill="#000" >0.002</text>
<path d="M400.6,806.0 L400.6,801.0 L478.9,801.0 L478.9,806.0" fill="none" stroke="#000" stroke-width="5.5" stroke-linejoin="round" stroke-linecap="round"/>
<text x="439.0" y="793.7" style="font-family:'Liberation Sans',Arial,sans-serif;font-size:35px;font-weight:normal" text-anchor="middle" fill="#000" >0.856</text>
<path d="M445.0,846.0 L445.0,841.5 L523.3,841.5 L523.3,846.0" fill="none" stroke="#000" stroke-width="5.5" stroke-linejoin="round" stroke-linecap="round"/>
<text x="482.2" y="834.9" style="font-family:'Liberation Sans',Arial,sans-serif;font-size:35px;font-weight:normal" text-anchor="middle" fill="#000" >0.095</text>
<path d="M491.5,891.0 L491.5,886.0 L543.9,886.0 L543.9,891.0" fill="none" stroke="#000" stroke-width="5.5" stroke-linejoin="round" stroke-linecap="round"/>
<text x="514.3" y="878.0" style="font-family:'Liberation Sans',Arial,sans-serif;font-size:35px;font-weight:normal" text-anchor="middle" fill="#000" >0.0005</text>
<path d="M613.9,778.8 L613.9,773.8 L692.2,773.8 L692.2,778.8" fill="none" stroke="#000" stroke-width="5.5" stroke-linejoin="round" stroke-linecap="round"/>
<text x="653.4" y="767.8" style="font-family:'Liberation Sans',Arial,sans-serif;font-size:35px;font-weight:normal" text-anchor="middle" fill="#000" >0.135</text>
<path d="M669.6,825.4 L669.6,820.9 L747.9,820.9 L747.9,825.4" fill="none" stroke="#000" stroke-width="5.5" stroke-linejoin="round" stroke-linecap="round"/>
<text x="709.7" y="812.9" style="font-family:'Liberation Sans',Arial,sans-serif;font-size:35px;font-weight:normal" text-anchor="middle" fill="#000" >0.087</text>
<path d="M702.8,886.5 L702.8,882.0 L755.2,882.0 L755.2,886.5" fill="none" stroke="#000" stroke-width="5.5" stroke-linejoin="round" stroke-linecap="round"/>
<text x="729.0" y="874.6" style="font-family:'Liberation Sans',Arial,sans-serif;font-size:35px;font-weight:normal" text-anchor="middle" fill="#000" >0.003</text>
<text x="468.2" y="1418.0" style="font-family:'Liberation Sans',Arial,sans-serif;font-size:34px;font-weight:bold" text-anchor="middle" fill="#000" textLength="214" lengthAdjust="spacingAndGlyphs" >Time (weeks)</text>
<text x="0" y="0" style="font-family:'Liberation Sans',Arial,sans-serif;font-size:34px;font-weight:bold" text-anchor="middle" transform="translate(73.0,1091.5) rotate(-90)">Glucose (mmol/l)</text>
<circle cx="1000.9" cy="1105.0" r="8.0" fill="#000000"/>
<circle cx="1027.5" cy="1116.2" r="8.0" fill="#000000"/>
<circle cx="1008.2" cy="1123.4" r="8.0" fill="#000000"/>
<circle cx="1017.8" cy="1129.2" r="8.0" fill="#000000"/>
<circle cx="1011.0" cy="1136.0" r="8.0" fill="#000000"/>
<circle cx="1016.0" cy="1142.0" r="8.0" fill="#000000"/>
<circle cx="1011.0" cy="1150.0" r="8.0" fill="#000000"/>
<circle cx="1011.0" cy="1157.2" r="8.0" fill="#000000"/>
<circle cx="1014.0" cy="1164.0" r="8.0" fill="#000000"/>
<circle cx="1014.0" cy="1174.6" r="8.0" fill="#000000"/>
<circle cx="1014.0" cy="1183.3" r="8.0" fill="#000000"/>
<circle cx="1045.8" cy="1096.9" r="8.0" fill="#838383"/>
<circle cx="1030.4" cy="1137.0" r="8.0" fill="#838383"/>
<circle cx="1060.3" cy="1137.9" r="8.0" fill="#838383"/>
<circle cx="1036.0" cy="1150.0" r="8.0" fill="#838383"/>
<circle cx="1056.0" cy="1152.0" r="8.0" fill="#838383"/>
<circle cx="1060.3" cy="1162.0" r="8.0" fill="#838383"/>
<circle cx="1034.0" cy="1165.0" r="8.0" fill="#838383"/>
<circle cx="1041.0" cy="1171.7" r="8.0" fill="#838383"/>
<circle cx="1051.6" cy="1176.5" r="8.0" fill="#838383"/>
<circle cx="1041.0" cy="1195.8" r="8.0" fill="#838383"/>
<circle cx="1051.6" cy="1198.7" r="8.0" fill="#838383"/>
<circle cx="1045.8" cy="1207.4" r="8.0" fill="#838383"/>
<circle cx="1069.4" cy="1107.0" r="8.0" fill="#0000f5"/>
<circle cx="1091.2" cy="1105.6" r="8.0" fill="#0000f5"/>
<circle cx="1074.0" cy="1118.0" r="8.0" fill="#0000f5"/>
<circle cx="1077.0" cy="1126.0" r="8.0" fill="#0000f5"/>
<circle cx="1080.0" cy="1134.0" r="8.0" fill="#0000f5"/>
<circle cx="1078.0" cy="1142.0" r="8.0" fill="#0000f5"/>
<circle cx="1080.0" cy="1150.0" r="8.0" fill="#0000f5"/>
<circle cx="1084.4" cy="1157.2" r="8.0" fill="#0000f5"/>
<circle cx="1077.6" cy="1166.0" r="8.0" fill="#0000f5"/>
<circle cx="1077.6" cy="1174.6" r="8.0" fill="#0000f5"/>
<rect x="1115.5" y="1108.7" width="16.0" height="16.0" fill="#f50000"/>
<rect x="1094.2" y="1131.8" width="16.0" height="16.0" fill="#f50000"/>
<rect x="1103.0" y="1142.0" width="16.0" height="16.0" fill="#f50000"/>
<rect x="1101.0" y="1152.0" width="16.0" height="16.0" fill="#f50000"/>
<rect x="1092.0" y="1162.0" width="16.0" height="16.0" fill="#f50000"/>
<rect x="1112.0" y="1164.0" width="16.0" height="16.0" fill="#f50000"/>
<rect x="1086.0" y="1168.5" width="16.0" height="16.0" fill="#f50000"/>
<rect x="1117.9" y="1171.4" width="16.0" height="16.0" fill="#f50000"/>
<rect x="1100.0" y="1177.0" width="16.0" height="16.0" fill="#f50000"/>
<rect x="1106.0" y="1186.0" width="16.0" height="16.0" fill="#f50000"/>
<rect x="1100.5" y="1197.4" width="16.0" height="16.0" fill="#f50000"/>
<circle cx="1160.0" cy="893.0" r="8.0" fill="#000000"/>
<circle cx="1170.0" cy="892.0" r="8.0" fill="#000000"/>
<circle cx="1180.0" cy="892.0" r="8.0" fill="#000000"/>
<circle cx="1190.0" cy="894.0" r="8.0" fill="#000000"/>
<circle cx="1165.0" cy="890.0" r="8.0" fill="#000000"/>
<circle cx="1178.5" cy="915.4" r="8.0" fill="#000000"/>
<circle cx="1175.0" cy="949.0" r="8.0" fill="#000000"/>
<circle cx="1177.5" cy="966.5" r="8.0" fill="#000000"/>
<circle cx="1172.7" cy="988.7" r="8.0" fill="#000000"/>
<circle cx="1174.0" cy="1104.2" r="8.0" fill="#000000"/>
<circle cx="1203.6" cy="881.1" r="8.0" fill="#838383"/>
<circle cx="1208.9" cy="895.1" r="8.0" fill="#838383"/>
<circle cx="1210.0" cy="903.0" r="8.0" fill="#838383"/>
<circle cx="1193.9" cy="931.8" r="8.0" fill="#838383"/>
<circle cx="1218.5" cy="947.2" r="8.0" fill="#838383"/>
<circle cx="1218.5" cy="959.7" r="8.0" fill="#838383"/>
<circle cx="1193.9" cy="970.4" r="8.0" fill="#838383"/>
<circle cx="1210.0" cy="973.0" r="8.0" fill="#838383"/>
<circle cx="1193.4" cy="985.8" r="8.0" fill="#838383"/>
<circle cx="1219.5" cy="995.5" r="8.0" fill="#838383"/>
<circle cx="1202.1" cy="1003.2" r="8.0" fill="#838383"/>
<circle cx="1211.8" cy="1014.8" r="8.0" fill="#838383"/>
<circle cx="1204.0" cy="1003.9" r="8.0" fill="#838383"/>
<circle cx="1212.7" cy="1013.5" r="8.0" fill="#838383"/>
<circle cx="1207.0" cy="1040.5" r="8.0" fill="#838383"/>
<circle cx="1210.8" cy="1072.4" r="8.0" fill="#838383"/>
<circle cx="1202.1" cy="1085.0" r="8.0" fill="#838383"/>
<circle cx="1207.0" cy="1094.6" r="8.0" fill="#838383"/>
<circle cx="1207.0" cy="1142.8" r="8.0" fill="#838383"/>
<circle cx="1239.3" cy="881.6" r="8.0" fill="#0000f5"/>
<circle cx="1239.3" cy="906.7" r="8.0" fill="#0000f5"/>
<circle cx="1236.0" cy="939.5" r="8.0" fill="#0000f5"/>
<circle cx="1243.0" cy="950.0" r="8.0" fill="#0000f5"/>
<circle cx="1236.0" cy="958.0" r="8.0" fill="#0000f5"/>
<circle cx="1242.0" cy="968.0" r="8.0" fill="#0000f5"/>
<circle cx="1239.0" cy="975.0" r="8.0" fill="#0000f5"/>
<circle cx="1239.3" cy="994.5" r="8.0" fill="#0000f5"/>
<circle cx="1239.3" cy="1040.0" r="8.0" fill="#0000f5"/>
<rect x="1259.7" y="919.9" width="16.0" height="16.0" fill="#f50000"/>
<rect x="1267.5" y="932.4" width="16.0" height="16.0" fill="#f50000"/>
<rect x="1256.0" y="958.0" width="16.0" height="16.0" fill="#f50000"/>
<rect x="1268.0" y="964.0" width="16.0" height="16.0" fill="#f50000"/>
<rect x="1256.0" y="974.0" width="16.0" height="16.0" fill="#f50000"/>
<rect x="1251.0" y="985.5" width="16.0" height="16.0" fill="#f50000"/>
<rect x="1279.0" y="983.6" width="16.0" height="16.0" fill="#f50000"/>
<rect x="1264.0" y="993.0" width="16.0" height="16.0" fill="#f50000"/>
<rect x="1263.6" y="999.7" width="16.0" height="16.0" fill="#f50000"/>
<rect x="1250.0" y="1016.4" width="16.0" height="16.0" fill="#f50000"/>
<rect x="1250.0" y="1018.0" width="16.0" height="16.0" fill="#f50000"/>
<rect x="1277.0" y="1028.7" width="16.0" height="16.0" fill="#f50000"/>
<rect x="1262.6" y="1041.2" width="16.0" height="16.0" fill="#f50000"/>
<rect x="1263.1" y="1088.0" width="16.0" height="16.0" fill="#f50000"/>
<circle cx="1335.7" cy="980.6" r="8.0" fill="#000000"/>
<circle cx="1335.7" cy="1004.7" r="8.0" fill="#000000"/>
<circle cx="1335.7" cy="1021.1" r="8.0" fill="#000000"/>
<circle cx="1332.4" cy="1040.4" r="8.0" fill="#000000"/>
<circle cx="1337.2" cy="1056.9" r="8.0" fill="#000000"/>
<circle cx="1335.7" cy="1070.0" r="8.0" fill="#000000"/>
<circle cx="1335.7" cy="1108.0" r="8.0" fill="#000000"/>
<circle cx="1335.7" cy="1154.2" r="8.0" fill="#000000"/>
<circle cx="1354.6" cy="974.8" r="8.0" fill="#838383"/>
<circle cx="1375.3" cy="983.0" r="8.0" fill="#838383"/>
<circle cx="1365.2" cy="1011.5" r="8.0" fill="#838383"/>
<circle cx="1371.0" cy="1015.0" r="8.0" fill="#838383"/>
<circle cx="1367.6" cy="1027.9" r="8.0" fill="#838383"/>
<circle cx="1371.0" cy="1042.4" r="8.0" fill="#838383"/>
<circle cx="1365.2" cy="1056.9" r="8.0" fill="#838383"/>
<circle cx="1368.0" cy="1066.0" r="8.0" fill="#838383"/>
<circle cx="1372.9" cy="1081.0" r="8.0" fill="#838383"/>
<circle cx="1367.1" cy="1088.7" r="8.0" fill="#838383"/>
<circle cx="1354.6" cy="1106.0" r="8.0" fill="#838383"/>
<circle cx="1381.6" cy="1121.8" r="8.0" fill="#838383"/>
<circle cx="1361.3" cy="1124.4" r="8.0" fill="#838383"/>
<circle cx="1372.0" cy="1137.3" r="8.0" fill="#838383"/>
<circle cx="1367.6" cy="1155.6" r="8.0" fill="#838383"/>
<circle cx="1391.2" cy="984.5" r="8.0" fill="#0000f5"/>
<circle cx="1413.4" cy="983.5" r="8.0" fill="#0000f5"/>
<circle cx="1399.0" cy="999.0" r="8.0" fill="#0000f5"/>
<circle cx="1400.0" cy="1010.0" r="8.0" fill="#0000f5"/>
<circle cx="1401.9" cy="1021.0" r="8.0" fill="#0000f5"/>
<circle cx="1413.0" cy="1040.4" r="8.0" fill="#0000f5"/>
<circle cx="1387.4" cy="1057.8" r="8.0" fill="#0000f5"/>
<circle cx="1404.7" cy="1059.7" r="8.0" fill="#0000f5"/>
<circle cx="1397.0" cy="1100.3" r="8.0" fill="#0000f5"/>
<circle cx="1401.9" cy="1109.0" r="8.0" fill="#0000f5"/>
<circle cx="1400.0" cy="1122.5" r="8.0" fill="#0000f5"/>
<rect x="1410.7" y="1018.0" width="16.0" height="16.0" fill="#f50000"/>
<rect x="1432.5" y="1020.9" width="16.0" height="16.0" fill="#f50000"/>
<rect x="1417.0" y="1048.0" width="16.0" height="16.0" fill="#f50000"/>
<rect x="1438.2" y="1051.7" width="16.0" height="16.0" fill="#f50000"/>
<rect x="1412.0" y="1058.0" width="16.0" height="16.0" fill="#f50000"/>
<rect x="1424.0" y="1062.0" width="16.0" height="16.0" fill="#f50000"/>
<rect x="1438.0" y="1066.0" width="16.0" height="16.0" fill="#f50000"/>
<rect x="1412.0" y="1072.0" width="16.0" height="16.0" fill="#f50000"/>
<rect x="1438.0" y="1076.0" width="16.0" height="16.0" fill="#f50000"/>
<rect x="1424.0" y="1078.0" width="16.0" height="16.0" fill="#f50000"/>
<rect x="1440.2" y="1082.0" width="16.0" height="16.0" fill="#f50000"/>
<rect x="1409.3" y="1084.0" width="16.0" height="16.0" fill="#f50000"/>
<rect x="1438.0" y="1090.0" width="16.0" height="16.0" fill="#f50000"/>
<rect x="1416.0" y="1094.0" width="16.0" height="16.0" fill="#f50000"/>
<rect x="1424.0" y="1099.4" width="16.0" height="16.0" fill="#f50000"/>
<rect x="1432.0" y="1104.0" width="16.0" height="16.0" fill="#f50000"/>
<rect x="1424.0" y="1113.8" width="16.0" height="16.0" fill="#f50000"/>
<rect x="1424.0" y="1123.0" width="16.0" height="16.0" fill="#f50000"/>
<rect x="1424.0" y="1130.2" width="16.0" height="16.0" fill="#f50000"/>
<circle cx="1496.9" cy="1093.4" r="8.0" fill="#000000"/>
<circle cx="1485.8" cy="1119.5" r="8.0" fill="#000000"/>
<circle cx="1509.0" cy="1117.6" r="8.0" fill="#000000"/>
<circle cx="1495.4" cy="1135.0" r="8.0" fill="#000000"/>
<circle cx="1495.4" cy="1152.3" r="8.0" fill="#000000"/>
<circle cx="1500.3" cy="1163.9" r="8.0" fill="#000000"/>
<circle cx="1496.4" cy="1180.3" r="8.0" fill="#000000"/>
<circle cx="1496.0" cy="1143.0" r="8.0" fill="#000000"/>
<circle cx="1535.5" cy="1107.0" r="8.0" fill="#838383"/>
<circle cx="1521.5" cy="1115.6" r="8.0" fill="#838383"/>
<circle cx="1542.0" cy="1120.0" r="8.0" fill="#838383"/>
<circle cx="1514.7" cy="1131.0" r="8.0" fill="#838383"/>
<circle cx="1540.8" cy="1136.9" r="8.0" fill="#838383"/>
<circle cx="1516.0" cy="1147.0" r="8.0" fill="#838383"/>
<circle cx="1541.0" cy="1150.0" r="8.0" fill="#838383"/>
<circle cx="1528.0" cy="1160.0" r="8.0" fill="#838383"/>
<circle cx="1516.0" cy="1163.0" r="8.0" fill="#838383"/>
<circle cx="1540.0" cy="1166.0" r="8.0" fill="#838383"/>
<circle cx="1513.8" cy="1173.5" r="8.0" fill="#838383"/>
<circle cx="1528.2" cy="1185.0" r="8.0" fill="#838383"/>
<circle cx="1538.0" cy="1183.0" r="8.0" fill="#838383"/>
<circle cx="1561.0" cy="1044.0" r="8.0" fill="#0000f5"/>
<circle cx="1547.6" cy="1093.4" r="8.0" fill="#0000f5"/>
<circle cx="1575.5" cy="1094.4" r="8.0" fill="#0000f5"/>
<circle cx="1554.3" cy="1106.0" r="8.0" fill="#0000f5"/>
<circle cx="1566.9" cy="1126.2" r="8.0" fill="#0000f5"/>
<circle cx="1550.0" cy="1140.0" r="8.0" fill="#0000f5"/>
<circle cx="1571.7" cy="1146.5" r="8.0" fill="#0000f5"/>
<circle cx="1552.0" cy="1156.0" r="8.0" fill="#0000f5"/>
<circle cx="1565.0" cy="1160.0" r="8.0" fill="#0000f5"/>
<circle cx="1560.1" cy="1171.6" r="8.0" fill="#0000f5"/>
<rect x="1579.0" y="1132.7" width="16.0" height="16.0" fill="#f50000"/>
<rect x="1591.0" y="1132.0" width="16.0" height="16.0" fill="#f50000"/>
<rect x="1576.0" y="1142.0" width="16.0" height="16.0" fill="#f50000"/>
<rect x="1592.0" y="1144.0" width="16.0" height="16.0" fill="#f50000"/>
<rect x="1578.0" y="1152.0" width="16.0" height="16.0" fill="#f50000"/>
<rect x="1592.0" y="1158.0" width="16.0" height="16.0" fill="#f50000"/>
<rect x="1582.0" y="1162.0" width="16.0" height="16.0" fill="#f50000"/>
<rect x="1568.5" y="1172.3" width="16.0" height="16.0" fill="#f50000"/>
<rect x="1601.3" y="1172.3" width="16.0" height="16.0" fill="#f50000"/>
<rect x="1584.9" y="1172.0" width="16.0" height="16.0" fill="#f50000"/>
<rect x="1577.0" y="1180.0" width="16.0" height="16.0" fill="#f50000"/>
<rect x="1592.0" y="1180.0" width="16.0" height="16.0" fill="#f50000"/>
<rect x="1584.9" y="1189.6" width="16.0" height="16.0" fill="#f50000"/>
<line x1="1013.7" y1="1121.0" x2="1013.7" y2="1172.0" stroke="#000" stroke-width="5" stroke-linecap="butt"/>
<line x1="1003.2" y1="1121.0" x2="1024.2" y2="1121.0" stroke="#000" stroke-width="5" stroke-linecap="butt"/>
<line x1="1003.2" y1="1172.0" x2="1024.2" y2="1172.0" stroke="#000" stroke-width="5" stroke-linecap="butt"/>
<line x1="997.7" y1="1146.6" x2="1029.7" y2="1146.6" stroke="#000" stroke-width="5" stroke-linecap="butt"/>
<line x1="1046.2" y1="1130.7" x2="1046.2" y2="1183.7" stroke="#000" stroke-width="5" stroke-linecap="butt"/>
<line x1="1035.7" y1="1130.7" x2="1056.7" y2="1130.7" stroke="#000" stroke-width="5" stroke-linecap="butt"/>
<line x1="1035.7" y1="1183.7" x2="1056.7" y2="1183.7" stroke="#000" stroke-width="5" stroke-linecap="butt"/>
<line x1="1030.2" y1="1157.2" x2="1062.2" y2="1157.2" stroke="#000" stroke-width="5" stroke-linecap="butt"/>
<line x1="1077.7" y1="1117.2" x2="1077.7" y2="1165.9" stroke="#000" stroke-width="5" stroke-linecap="butt"/>
<line x1="1067.2" y1="1117.2" x2="1088.2" y2="1117.2" stroke="#000" stroke-width="5" stroke-linecap="butt"/>
<line x1="1067.2" y1="1165.9" x2="1088.2" y2="1165.9" stroke="#000" stroke-width="5" stroke-linecap="butt"/>
<line x1="1061.7" y1="1141.8" x2="1093.7" y2="1141.8" stroke="#000" stroke-width="5" stroke-linecap="butt"/>
<line x1="1111.0" y1="1147.5" x2="1111.0" y2="1195.3" stroke="#000" stroke-width="5" stroke-linecap="butt"/>
<line x1="1100.5" y1="1147.5" x2="1121.5" y2="1147.5" stroke="#000" stroke-width="5" stroke-linecap="butt"/>
<line x1="1100.5" y1="1195.3" x2="1121.5" y2="1195.3" stroke="#000" stroke-width="5" stroke-linecap="butt"/>
<line x1="1095.0" y1="1171.0" x2="1127.0" y2="1171.0" stroke="#000" stroke-width="5" stroke-linecap="butt"/>
<line x1="1174.6" y1="888.0" x2="1174.6" y2="1023.4" stroke="#000" stroke-width="5" stroke-linecap="butt"/>
<line x1="1164.1" y1="888.0" x2="1185.1" y2="888.0" stroke="#000" stroke-width="5" stroke-linecap="butt"/>
<line x1="1164.1" y1="1023.4" x2="1185.1" y2="1023.4" stroke="#000" stroke-width="5" stroke-linecap="butt"/>
<line x1="1158.6" y1="954.9" x2="1190.6" y2="954.9" stroke="#000" stroke-width="5" stroke-linecap="butt"/>
<line x1="1207.0" y1="921.1" x2="1207.0" y2="1066.1" stroke="#000" stroke-width="5" stroke-linecap="butt"/>
<line x1="1196.5" y1="921.1" x2="1217.5" y2="921.1" stroke="#000" stroke-width="5" stroke-linecap="butt"/>
<line x1="1196.5" y1="1066.1" x2="1217.5" y2="1066.1" stroke="#000" stroke-width="5" stroke-linecap="butt"/>
<line x1="1191.0" y1="993.0" x2="1223.0" y2="993.0" stroke="#000" stroke-width="5" stroke-linecap="butt"/>
<line x1="1239.3" y1="900.9" x2="1239.3" y2="991.1" stroke="#000" stroke-width="5" stroke-linecap="butt"/>
<line x1="1228.8" y1="900.9" x2="1249.8" y2="900.9" stroke="#000" stroke-width="5" stroke-linecap="butt"/>
<line x1="1228.8" y1="991.1" x2="1249.8" y2="991.1" stroke="#000" stroke-width="5" stroke-linecap="butt"/>
<line x1="1223.3" y1="946.2" x2="1255.3" y2="946.2" stroke="#000" stroke-width="5" stroke-linecap="butt"/>
<line x1="1271.1" y1="954.0" x2="1271.1" y2="1044.4" stroke="#000" stroke-width="5" stroke-linecap="butt"/>
<line x1="1260.6" y1="954.0" x2="1281.6" y2="954.0" stroke="#000" stroke-width="5" stroke-linecap="butt"/>
<line x1="1260.6" y1="1044.4" x2="1281.6" y2="1044.4" stroke="#000" stroke-width="5" stroke-linecap="butt"/>
<line x1="1255.1" y1="997.4" x2="1287.1" y2="997.4" stroke="#000" stroke-width="5" stroke-linecap="butt"/>
<line x1="1335.7" y1="993.2" x2="1335.7" y2="1101.2" stroke="#000" stroke-width="5" stroke-linecap="butt"/>
<line x1="1325.2" y1="993.2" x2="1346.2" y2="993.2" stroke="#000" stroke-width="5" stroke-linecap="butt"/>
<line x1="1325.2" y1="1101.2" x2="1346.2" y2="1101.2" stroke="#000" stroke-width="5" stroke-linecap="butt"/>
<line x1="1319.7" y1="1047.7" x2="1351.7" y2="1047.7" stroke="#000" stroke-width="5" stroke-linecap="butt"/>
<line x1="1368.0" y1="1018.3" x2="1368.0" y2="1129.6" stroke="#000" stroke-width="5" stroke-linecap="butt"/>
<line x1="1357.5" y1="1018.3" x2="1378.5" y2="1018.3" stroke="#000" stroke-width="5" stroke-linecap="butt"/>
<line x1="1357.5" y1="1129.6" x2="1378.5" y2="1129.6" stroke="#000" stroke-width="5" stroke-linecap="butt"/>
<line x1="1352.0" y1="1073.7" x2="1384.0" y2="1073.7" stroke="#000" stroke-width="5" stroke-linecap="butt"/>
<line x1="1400.0" y1="986.4" x2="1400.0" y2="1089.7" stroke="#000" stroke-width="5" stroke-linecap="butt"/>
<line x1="1389.5" y1="986.4" x2="1410.5" y2="986.4" stroke="#000" stroke-width="5" stroke-linecap="butt"/>
<line x1="1389.5" y1="1089.7" x2="1410.5" y2="1089.7" stroke="#000" stroke-width="5" stroke-linecap="butt"/>
<line x1="1384.0" y1="1037.6" x2="1416.0" y2="1037.6" stroke="#000" stroke-width="5" stroke-linecap="butt"/>
<line x1="1432.7" y1="1050.1" x2="1432.7" y2="1114.8" stroke="#000" stroke-width="5" stroke-linecap="butt"/>
<line x1="1422.2" y1="1050.1" x2="1443.2" y2="1050.1" stroke="#000" stroke-width="5" stroke-linecap="butt"/>
<line x1="1422.2" y1="1114.8" x2="1443.2" y2="1114.8" stroke="#000" stroke-width="5" stroke-linecap="butt"/>
<line x1="1416.7" y1="1083.5" x2="1448.7" y2="1083.5" stroke="#000" stroke-width="5" stroke-linecap="butt"/>
<line x1="1496.4" y1="1113.7" x2="1496.4" y2="1166.8" stroke="#000" stroke-width="5" stroke-linecap="butt"/>
<line x1="1485.9" y1="1113.7" x2="1506.9" y2="1113.7" stroke="#000" stroke-width="5" stroke-linecap="butt"/>
<line x1="1485.9" y1="1166.8" x2="1506.9" y2="1166.8" stroke="#000" stroke-width="5" stroke-linecap="butt"/>
<line x1="1480.4" y1="1140.2" x2="1512.4" y2="1140.2" stroke="#000" stroke-width="5" stroke-linecap="butt"/>
<line x1="1528.7" y1="1127.7" x2="1528.7" y2="1176.9" stroke="#000" stroke-width="5" stroke-linecap="butt"/>
<line x1="1518.2" y1="1127.7" x2="1539.2" y2="1127.7" stroke="#000" stroke-width="5" stroke-linecap="butt"/>
<line x1="1518.2" y1="1176.9" x2="1539.2" y2="1176.9" stroke="#000" stroke-width="5" stroke-linecap="butt"/>
<line x1="1512.7" y1="1151.8" x2="1544.7" y2="1151.8" stroke="#000" stroke-width="5" stroke-linecap="butt"/>
<line x1="1561.0" y1="1097.3" x2="1561.0" y2="1165.8" stroke="#000" stroke-width="5" stroke-linecap="butt"/>
<line x1="1550.5" y1="1097.3" x2="1571.5" y2="1097.3" stroke="#000" stroke-width="5" stroke-linecap="butt"/>
<line x1="1550.5" y1="1165.8" x2="1571.5" y2="1165.8" stroke="#000" stroke-width="5" stroke-linecap="butt"/>
<line x1="1545.0" y1="1131.5" x2="1577.0" y2="1131.5" stroke="#000" stroke-width="5" stroke-linecap="butt"/>
<line x1="1592.9" y1="1149.4" x2="1592.9" y2="1189.0" stroke="#000" stroke-width="5" stroke-linecap="butt"/>
<line x1="1582.4" y1="1149.4" x2="1603.4" y2="1149.4" stroke="#000" stroke-width="5" stroke-linecap="butt"/>
<line x1="1582.4" y1="1189.0" x2="1603.4" y2="1189.0" stroke="#000" stroke-width="5" stroke-linecap="butt"/>
<line x1="1576.9" y1="1168.0" x2="1608.9" y2="1168.0" stroke="#000" stroke-width="5" stroke-linecap="butt"/>
<path d="M980.0,870.0 L980.0,1302.2 L1624.8,1302.2" fill="none" stroke="#000" stroke-width="5.5" stroke-linejoin="miter" stroke-linecap="square"/>
<line x1="965.0" y1="1301.4" x2="980.0" y2="1301.4" stroke="#000" stroke-width="5.5" stroke-linecap="butt"/>
<text x="963.0" y="1313.3" style="font-family:'Liberation Sans',Arial,sans-serif;font-size:33px;font-weight:bold" text-anchor="end" fill="#000" >0</text>
<line x1="965.0" y1="1158.3" x2="980.0" y2="1158.3" stroke="#000" stroke-width="5.5" stroke-linecap="butt"/>
<text x="963.0" y="1170.2" style="font-family:'Liberation Sans',Arial,sans-serif;font-size:33px;font-weight:bold" text-anchor="end" fill="#000" >10</text>
<line x1="965.0" y1="1015.2" x2="980.0" y2="1015.2" stroke="#000" stroke-width="5.5" stroke-linecap="butt"/>
<text x="963.0" y="1027.1" style="font-family:'Liberation Sans',Arial,sans-serif;font-size:33px;font-weight:bold" text-anchor="end" fill="#000" >20</text>
<line x1="965.0" y1="872.1" x2="980.0" y2="872.1" stroke="#000" stroke-width="5.5" stroke-linecap="butt"/>
<text x="963.0" y="884.0" style="font-family:'Liberation Sans',Arial,sans-serif;font-size:33px;font-weight:bold" text-anchor="end" fill="#000" >30</text>
<line x1="1062.0" y1="1302.2" x2="1062.0" y2="1319.2" stroke="#000" stroke-width="5.5" stroke-linecap="butt"/>
<text x="0" y="0" style="font-family:'Liberation Sans',Arial,sans-serif;font-size:29px;font-weight:normal" text-anchor="end" dominant-baseline="central" stroke="#000" stroke-width="1.1" transform="translate(1062.0,1334.2) rotate(-45)">0</text>
<line x1="1223.0" y1="1302.2" x2="1223.0" y2="1319.2" stroke="#000" stroke-width="5.5" stroke-linecap="butt"/>
<text x="0" y="0" style="font-family:'Liberation Sans',Arial,sans-serif;font-size:29px;font-weight:normal" text-anchor="end" dominant-baseline="central" stroke="#000" stroke-width="1.1" transform="translate(1223.0,1334.2) rotate(-45)">30</text>
<line x1="1383.6" y1="1302.2" x2="1383.6" y2="1319.2" stroke="#000" stroke-width="5.5" stroke-linecap="butt"/>
<text x="0" y="0" style="font-family:'Liberation Sans',Arial,sans-serif;font-size:29px;font-weight:normal" text-anchor="end" dominant-baseline="central" stroke="#000" stroke-width="1.1" transform="translate(1383.6,1334.2) rotate(-45)">60</text>
<line x1="1545.0" y1="1302.2" x2="1545.0" y2="1319.2" stroke="#000" stroke-width="5.5" stroke-linecap="butt"/>
<text x="0" y="0" style="font-family:'Liberation Sans',Arial,sans-serif;font-size:29px;font-weight:normal" text-anchor="end" dominant-baseline="central" stroke="#000" stroke-width="1.1" transform="translate(1545.0,1334.2) rotate(-45)">120</text>
<path d="M1008.6,993.9 L1008.6,990.4 L1071.4,990.4 L1071.4,993.9" fill="none" stroke="#000" stroke-width="5.5" stroke-linejoin="round" stroke-linecap="round"/>
<text x="1038.1" y="984.1" style="font-family:'Liberation Sans',Arial,sans-serif;font-size:35px;font-weight:normal" text-anchor="middle" fill="#000" >0.776</text>
<path d="M1049.7,1041.2 L1049.7,1037.2 L1112.4,1037.2 L1112.4,1041.2" fill="none" stroke="#000" stroke-width="5.5" stroke-linejoin="round" stroke-linecap="round"/>
<text x="1081.7" y="1031.9" style="font-family:'Liberation Sans',Arial,sans-serif;font-size:35px;font-weight:normal" text-anchor="middle" fill="#000" >0.051</text>
<path d="M1077.6,1091.9 L1077.6,1086.4 L1116.7,1086.4 L1116.7,1091.9" fill="none" stroke="#000" stroke-width="5.5" stroke-linejoin="round" stroke-linecap="round"/>
<text x="1095.7" y="1079.2" style="font-family:'Liberation Sans',Arial,sans-serif;font-size:35px;font-weight:normal" text-anchor="middle" fill="#000" >0.001</text>
<path d="M1172.7,769.8 L1172.7,765.8 L1235.9,765.8 L1235.9,769.8" fill="none" stroke="#000" stroke-width="5.5" stroke-linejoin="round" stroke-linecap="round"/>
<text x="1201.3" y="758.6" style="font-family:'Liberation Sans',Arial,sans-serif;font-size:35px;font-weight:normal" text-anchor="middle" fill="#000" >0.586</text>
<path d="M1206.0,818.0 L1206.0,814.0 L1271.5,814.0 L1271.5,818.0" fill="none" stroke="#000" stroke-width="5.5" stroke-linejoin="round" stroke-linecap="round"/>
<text x="1243.5" y="807.5" style="font-family:'Liberation Sans',Arial,sans-serif;font-size:35px;font-weight:normal" text-anchor="middle" fill="#000" >0.873</text>
<path d="M1240.0,864.0 L1240.0,860.0 L1281.0,860.0 L1281.0,864.0" fill="none" stroke="#000" stroke-width="5.5" stroke-linejoin="round" stroke-linecap="round"/>
<text x="1261.7" y="852.7" style="font-family:'Liberation Sans',Arial,sans-serif;font-size:35px;font-weight:normal" text-anchor="middle" fill="#000" >0.001</text>
<path d="M1331.5,827.7 L1331.5,823.7 L1394.5,823.7 L1394.5,827.7" fill="none" stroke="#000" stroke-width="5.5" stroke-linejoin="round" stroke-linecap="round"/>
<text x="1364.2" y="815.3" style="font-family:'Liberation Sans',Arial,sans-serif;font-size:35px;font-weight:normal" text-anchor="middle" fill="#000" >0.516</text>
<path d="M1372.5,878.4 L1372.5,874.4 L1435.5,874.4 L1435.5,878.4" fill="none" stroke="#000" stroke-width="5.5" stroke-linejoin="round" stroke-linecap="round"/>
<text x="1405.2" y="865.4" style="font-family:'Liberation Sans',Arial,sans-serif;font-size:35px;font-weight:normal" text-anchor="middle" fill="#000" >0.631</text>
<path d="M1401.5,929.0 L1401.5,925.0 L1440.4,925.0 L1440.4,929.0" fill="none" stroke="#000" stroke-width="5.5" stroke-linejoin="round" stroke-linecap="round"/>
<text x="1420.8" y="916.2" style="font-family:'Liberation Sans',Arial,sans-serif;font-size:35px;font-weight:normal" text-anchor="middle" fill="#000" >0.004</text>
<path d="M1495.5,926.3 L1495.5,922.3 L1558.6,922.3 L1558.6,926.3" fill="none" stroke="#000" stroke-width="5.5" stroke-linejoin="round" stroke-linecap="round"/>
<text x="1528.2" y="914.2" style="font-family:'Liberation Sans',Arial,sans-serif;font-size:35px;font-weight:normal" text-anchor="middle" fill="#000" >0.475</text>
<path d="M1536.5,976.3 L1536.5,972.3 L1599.7,972.3 L1599.7,976.3" fill="none" stroke="#000" stroke-width="5.5" stroke-linejoin="round" stroke-linecap="round"/>
<text x="1566.8" y="965.2" style="font-family:'Liberation Sans',Arial,sans-serif;font-size:35px;font-weight:normal" text-anchor="middle" fill="#000" >0.155</text>
<path d="M1563.0,1028.4 L1563.0,1024.4 L1602.0,1024.4 L1602.0,1028.4" fill="none" stroke="#000" stroke-width="5.5" stroke-linejoin="round" stroke-linecap="round"/>
<text x="1578.9" y="1017.2" style="font-family:'Liberation Sans',Arial,sans-serif;font-size:35px;font-weight:normal" text-anchor="middle" fill="#000" >0.0003</text>
<text x="1303.0" y="1429.0" style="font-family:'Liberation Sans',Arial,sans-serif;font-size:34px;font-weight:bold" text-anchor="middle" fill="#000" >IPGTT - Time (min)</text>
<text x="0" y="0" style="font-family:'Liberation Sans',Arial,sans-serif;font-size:35px;font-weight:bold" text-anchor="middle" transform="translate(905.0,1089.0) rotate(-90)">Glucose (mmol/l)</text>
<circle cx="289.6" cy="1671.5" r="8.0" fill="#0000f5"/>
<circle cx="276.9" cy="1700.4" r="8.0" fill="#0000f5"/>
<circle cx="302.2" cy="1703.1" r="8.0" fill="#0000f5"/>
<circle cx="264.2" cy="1724.8" r="8.0" fill="#0000f5"/>
<circle cx="314.9" cy="1736.6" r="8.0" fill="#0000f5"/>
<circle cx="289.6" cy="1746.6" r="8.0" fill="#0000f5"/>
<circle cx="289.6" cy="1774.6" r="8.0" fill="#0000f5"/>
<circle cx="289.6" cy="1813.5" r="8.0" fill="#0000f5"/>
<rect x="396.9" y="1730.9" width="15.0" height="15.0" fill="#f50000"/>
<rect x="422.3" y="1726.4" width="15.0" height="15.0" fill="#f50000"/>
<rect x="447.6" y="1745.4" width="15.0" height="15.0" fill="#f50000"/>
<rect x="422.3" y="1755.3" width="15.0" height="15.0" fill="#f50000"/>
<rect x="410.5" y="1781.5" width="15.0" height="15.0" fill="#f50000"/>
<rect x="447.6" y="1804.2" width="15.0" height="15.0" fill="#f50000"/>
<rect x="435.9" y="1814.1" width="15.0" height="15.0" fill="#f50000"/>
<rect x="410.5" y="1832.2" width="15.0" height="15.0" fill="#f50000"/>
<line x1="289.6" y1="1688.7" x2="289.6" y2="1780.0" stroke="#000" stroke-width="5" stroke-linecap="butt"/>
<line x1="251.6" y1="1688.7" x2="327.6" y2="1688.7" stroke="#000" stroke-width="5" stroke-linecap="butt"/>
<line x1="251.6" y1="1780.0" x2="327.6" y2="1780.0" stroke="#000" stroke-width="5" stroke-linecap="butt"/>
<line x1="219.6" y1="1733.9" x2="359.6" y2="1733.9" stroke="#000" stroke-width="3.6" stroke-linecap="butt"/>
<line x1="429.8" y1="1742.0" x2="429.8" y2="1820.7" stroke="#000" stroke-width="5" stroke-linecap="butt"/>
<line x1="391.8" y1="1742.0" x2="467.8" y2="1742.0" stroke="#000" stroke-width="5" stroke-linecap="butt"/>
<line x1="391.8" y1="1820.7" x2="467.8" y2="1820.7" stroke="#000" stroke-width="5" stroke-linecap="butt"/>
<line x1="359.8" y1="1781.0" x2="499.8" y2="1781.0" stroke="#000" stroke-width="3.6" stroke-linecap="butt"/>
<path d="M149.3,1605.0 L149.3,2028.0 L570.7,2028.0" fill="none" stroke="#000" stroke-width="5.5" stroke-linejoin="miter" stroke-linecap="square"/>
<line x1="134.3" y1="2027.0" x2="149.3" y2="2027.0" stroke="#000" stroke-width="5.5" stroke-linecap="butt"/>
<text x="132.3" y="2038.9" style="font-family:'Liberation Sans',Arial,sans-serif;font-size:33px;font-weight:bold" text-anchor="end" fill="#000" >0</text>
<line x1="134.3" y1="1942.8" x2="149.3" y2="1942.8" stroke="#000" stroke-width="5.5" stroke-linecap="butt"/>
<text x="132.3" y="1954.7" style="font-family:'Liberation Sans',Arial,sans-serif;font-size:33px;font-weight:bold" text-anchor="end" fill="#000" >1</text>
<line x1="134.3" y1="1858.6" x2="149.3" y2="1858.6" stroke="#000" stroke-width="5.5" stroke-linecap="butt"/>
<text x="132.3" y="1870.5" style="font-family:'Liberation Sans',Arial,sans-serif;font-size:33px;font-weight:bold" text-anchor="end" fill="#000" >2</text>
<line x1="134.3" y1="1774.4" x2="149.3" y2="1774.4" stroke="#000" stroke-width="5.5" stroke-linecap="butt"/>
<text x="132.3" y="1786.3" style="font-family:'Liberation Sans',Arial,sans-serif;font-size:33px;font-weight:bold" text-anchor="end" fill="#000" >3</text>
<line x1="134.3" y1="1690.2" x2="149.3" y2="1690.2" stroke="#000" stroke-width="5.5" stroke-linecap="butt"/>
<text x="132.3" y="1702.1" style="font-family:'Liberation Sans',Arial,sans-serif;font-size:33px;font-weight:bold" text-anchor="end" fill="#000" >4</text>
<line x1="134.3" y1="1606.0" x2="149.3" y2="1606.0" stroke="#000" stroke-width="5.5" stroke-linecap="butt"/>
<text x="132.3" y="1617.9" style="font-family:'Liberation Sans',Arial,sans-serif;font-size:33px;font-weight:bold" text-anchor="end" fill="#000" >5</text>
<line x1="290.0" y1="2028.0" x2="290.0" y2="2042.0" stroke="#000" stroke-width="5.5" stroke-linecap="butt"/>
<text x="290.0" y="2075.0" style="font-family:'Liberation Sans',Arial,sans-serif;font-size:33px;font-weight:bold" text-anchor="middle" fill="#000" >PAT</text>
<line x1="431.3" y1="2028.0" x2="431.3" y2="2042.0" stroke="#000" stroke-width="5.5" stroke-linecap="butt"/>
<text x="431.3" y="2075.0" style="font-family:'Liberation Sans',Arial,sans-serif;font-size:33px;font-weight:bold" text-anchor="middle" fill="#000" >MAT</text>
<text x="358.7" y="1653.4" style="font-family:'Liberation Sans',Arial,sans-serif;font-size:35px;font-weight:bold" text-anchor="middle" fill="#000" >0.043</text>
<text x="0" y="0" style="font-family:'Liberation Sans',Arial,sans-serif;font-size:34px;font-weight:bold" text-anchor="middle" transform="translate(73.0,1816.5) rotate(-90)">HDL- C (mmol/l)</text>
<circle cx="799.5" cy="1664.2" r="8.0" fill="#0000f5"/>
<circle cx="824.8" cy="1678.7" r="8.0" fill="#0000f5"/>
<circle cx="799.5" cy="1708.6" r="8.0" fill="#0000f5"/>
<circle cx="824.8" cy="1706.7" r="8.0" fill="#0000f5"/>
<circle cx="812.2" cy="1738.4" r="8.0" fill="#0000f5"/>
<circle cx="786.8" cy="1759.2" r="8.0" fill="#0000f5"/>
<circle cx="837.5" cy="1769.2" r="8.0" fill="#0000f5"/>
<circle cx="812.2" cy="1779.1" r="8.0" fill="#0000f5"/>
<rect x="933.1" y="1724.6" width="15.0" height="15.0" fill="#f50000"/>
<rect x="957.5" y="1734.5" width="15.0" height="15.0" fill="#f50000"/>
<rect x="933.1" y="1812.3" width="15.0" height="15.0" fill="#f50000"/>
<rect x="957.5" y="1809.6" width="15.0" height="15.0" fill="#f50000"/>
<rect x="945.8" y="1853.0" width="15.0" height="15.0" fill="#f50000"/>
<rect x="920.5" y="1863.9" width="15.0" height="15.0" fill="#f50000"/>
<rect x="971.1" y="1874.8" width="15.0" height="15.0" fill="#f50000"/>
<rect x="945.8" y="1889.2" width="15.0" height="15.0" fill="#f50000"/>
<line x1="812.2" y1="1683.2" x2="812.2" y2="1768.3" stroke="#000" stroke-width="5" stroke-linecap="butt"/>
<line x1="774.2" y1="1683.2" x2="850.2" y2="1683.2" stroke="#000" stroke-width="5" stroke-linecap="butt"/>
<line x1="774.2" y1="1768.3" x2="850.2" y2="1768.3" stroke="#000" stroke-width="5" stroke-linecap="butt"/>
<line x1="742.2" y1="1725.7" x2="882.2" y2="1725.7" stroke="#000" stroke-width="3.6" stroke-linecap="butt"/>
<line x1="953.3" y1="1765.6" x2="953.3" y2="1891.3" stroke="#000" stroke-width="5" stroke-linecap="butt"/>
<line x1="915.3" y1="1765.6" x2="991.3" y2="1765.6" stroke="#000" stroke-width="5" stroke-linecap="butt"/>
<line x1="915.3" y1="1891.3" x2="991.3" y2="1891.3" stroke="#000" stroke-width="5" stroke-linecap="butt"/>
<line x1="883.3" y1="1828.9" x2="1023.3" y2="1828.9" stroke="#000" stroke-width="3.6" stroke-linecap="butt"/>
<path d="M673.5,1605.0 L673.5,2028.5 L1093.0,2028.5" fill="none" stroke="#000" stroke-width="5.5" stroke-linejoin="miter" stroke-linecap="square"/>
<line x1="658.5" y1="2027.0" x2="673.5" y2="2027.0" stroke="#000" stroke-width="5.5" stroke-linecap="butt"/>
<text x="656.5" y="2038.9" style="font-family:'Liberation Sans',Arial,sans-serif;font-size:33px;font-weight:bold" text-anchor="end" fill="#000" >0</text>
<line x1="658.5" y1="1921.8" x2="673.5" y2="1921.8" stroke="#000" stroke-width="5.5" stroke-linecap="butt"/>
<text x="656.5" y="1933.6" style="font-family:'Liberation Sans',Arial,sans-serif;font-size:33px;font-weight:bold" text-anchor="end" fill="#000" >1</text>
<line x1="658.5" y1="1816.5" x2="673.5" y2="1816.5" stroke="#000" stroke-width="5.5" stroke-linecap="butt"/>
<text x="656.5" y="1828.4" style="font-family:'Liberation Sans',Arial,sans-serif;font-size:33px;font-weight:bold" text-anchor="end" fill="#000" >1</text>
<line x1="658.5" y1="1711.2" x2="673.5" y2="1711.2" stroke="#000" stroke-width="5.5" stroke-linecap="butt"/>
<text x="656.5" y="1723.1" style="font-family:'Liberation Sans',Arial,sans-serif;font-size:33px;font-weight:bold" text-anchor="end" fill="#000" >2</text>
<line x1="658.5" y1="1606.0" x2="673.5" y2="1606.0" stroke="#000" stroke-width="5.5" stroke-linecap="butt"/>
<text x="656.5" y="1617.9" style="font-family:'Liberation Sans',Arial,sans-serif;font-size:33px;font-weight:bold" text-anchor="end" fill="#000" >2</text>
<line x1="811.0" y1="2028.5" x2="811.0" y2="2042.5" stroke="#000" stroke-width="5.5" stroke-linecap="butt"/>
<text x="811.0" y="2075.0" style="font-family:'Liberation Sans',Arial,sans-serif;font-size:33px;font-weight:bold" text-anchor="middle" fill="#000" >PAT</text>
<line x1="953.6" y1="2028.5" x2="953.6" y2="2042.5" stroke="#000" stroke-width="5.5" stroke-linecap="butt"/>
<text x="953.6" y="2075.0" style="font-family:'Liberation Sans',Arial,sans-serif;font-size:33px;font-weight:bold" text-anchor="middle" fill="#000" >MAT</text>
<text x="891.0" y="1653.4" style="font-family:'Liberation Sans',Arial,sans-serif;font-size:35px;font-weight:bold" text-anchor="middle" fill="#000" >0.001</text>
<text x="0" y="0" style="font-family:'Liberation Sans',Arial,sans-serif;font-size:34px;font-weight:bold" text-anchor="middle" transform="translate(597.0,1816.6) rotate(-90)">LDL-C (mmol/l)</text>
<circle cx="1331.0" cy="1631.5" r="8.0" fill="#0000f5"/>
<circle cx="1317.9" cy="1665.9" r="8.0" fill="#0000f5"/>
<circle cx="1343.2" cy="1671.3" r="8.0" fill="#0000f5"/>
<circle cx="1306.1" cy="1703.0" r="8.0" fill="#0000f5"/>
<circle cx="1343.2" cy="1697.6" r="8.0" fill="#0000f5"/>
<circle cx="1317.9" cy="1724.7" r="8.0" fill="#0000f5"/>
<circle cx="1343.2" cy="1746.4" r="8.0" fill="#0000f5"/>
<circle cx="1331.0" cy="1776.3" r="8.0" fill="#0000f5"/>
<rect x="1451.5" y="1696.4" width="15.0" height="15.0" fill="#f50000"/>
<rect x="1490.4" y="1705.4" width="15.0" height="15.0" fill="#f50000"/>
<rect x="1476.8" y="1715.4" width="15.0" height="15.0" fill="#f50000"/>
<rect x="1451.5" y="1733.5" width="15.0" height="15.0" fill="#f50000"/>
<rect x="1464.1" y="1787.8" width="15.0" height="15.0" fill="#f50000"/>
<rect x="1439.7" y="1797.7" width="15.0" height="15.0" fill="#f50000"/>
<rect x="1464.1" y="1815.8" width="15.0" height="15.0" fill="#f50000"/>
<rect x="1489.5" y="1816.7" width="15.0" height="15.0" fill="#f50000"/>
<line x1="1331.0" y1="1656.0" x2="1331.0" y2="1749.0" stroke="#000" stroke-width="5" stroke-linecap="butt"/>
<line x1="1293.0" y1="1656.0" x2="1369.0" y2="1656.0" stroke="#000" stroke-width="5" stroke-linecap="butt"/>
<line x1="1293.0" y1="1749.0" x2="1369.0" y2="1749.0" stroke="#000" stroke-width="5" stroke-linecap="butt"/>
<line x1="1261.0" y1="1702.0" x2="1401.0" y2="1702.0" stroke="#000" stroke-width="3.6" stroke-linecap="butt"/>
<line x1="1471.6" y1="1714.7" x2="1471.6" y2="1816.0" stroke="#000" stroke-width="5" stroke-linecap="butt"/>
<line x1="1433.6" y1="1714.7" x2="1509.6" y2="1714.7" stroke="#000" stroke-width="5" stroke-linecap="butt"/>
<line x1="1433.6" y1="1816.0" x2="1509.6" y2="1816.0" stroke="#000" stroke-width="5" stroke-linecap="butt"/>
<line x1="1401.6" y1="1765.4" x2="1541.6" y2="1765.4" stroke="#000" stroke-width="3.6" stroke-linecap="butt"/>
<path d="M1190.2,1603.0 L1190.2,2024.2 L1610.8,2024.2" fill="none" stroke="#000" stroke-width="5.5" stroke-linejoin="miter" stroke-linecap="square"/>
<line x1="1175.2" y1="2024.2" x2="1190.2" y2="2024.2" stroke="#000" stroke-width="5.5" stroke-linecap="butt"/>
<text x="1173.2" y="2036.1" style="font-family:'Liberation Sans',Arial,sans-serif;font-size:33px;font-weight:bold" text-anchor="end" fill="#000" >0</text>
<line x1="1175.2" y1="1902.7" x2="1190.2" y2="1902.7" stroke="#000" stroke-width="5.5" stroke-linecap="butt"/>
<text x="1173.2" y="1914.6" style="font-family:'Liberation Sans',Arial,sans-serif;font-size:33px;font-weight:bold" text-anchor="end" fill="#000" >2</text>
<line x1="1175.2" y1="1781.2" x2="1190.2" y2="1781.2" stroke="#000" stroke-width="5.5" stroke-linecap="butt"/>
<text x="1173.2" y="1793.1" style="font-family:'Liberation Sans',Arial,sans-serif;font-size:33px;font-weight:bold" text-anchor="end" fill="#000" >4</text>
<line x1="1175.2" y1="1659.7" x2="1190.2" y2="1659.7" stroke="#000" stroke-width="5.5" stroke-linecap="butt"/>
<text x="1173.2" y="1671.6" style="font-family:'Liberation Sans',Arial,sans-serif;font-size:33px;font-weight:bold" text-anchor="end" fill="#000" >6</text>
<line x1="1330.4" y1="2024.2" x2="1330.4" y2="2038.2" stroke="#000" stroke-width="5.5" stroke-linecap="butt"/>
<text x="1330.4" y="2070.5" style="font-family:'Liberation Sans',Arial,sans-serif;font-size:33px;font-weight:bold" text-anchor="middle" fill="#000" >PAT</text>
<line x1="1471.7" y1="2024.2" x2="1471.7" y2="2038.2" stroke="#000" stroke-width="5.5" stroke-linecap="butt"/>
<text x="1471.7" y="2070.5" style="font-family:'Liberation Sans',Arial,sans-serif;font-size:33px;font-weight:bold" text-anchor="middle" fill="#000" >MAT</text>
<text x="1408.0" y="1611.6" style="font-family:'Liberation Sans',Arial,sans-serif;font-size:35px;font-weight:bold" text-anchor="middle" fill="#000" >0.020</text>
<text x="0" y="0" style="font-family:'Liberation Sans',Arial,sans-serif;font-size:34px;font-weight:bold" text-anchor="middle" transform="translate(1111.0,1812.6) rotate(-90)">Total-C (mmol/l)</text>
<text x="117.0" y="54.5" style="font-family:'Liberation Sans',Arial,sans-serif;font-size:66px;font-weight:bold" text-anchor="start" fill="#000" >a</text>
<text x="942.0" y="57.5" style="font-family:'Liberation Sans',Arial,sans-serif;font-size:66px;font-weight:bold" text-anchor="start" fill="#000" >b</text>
<text x="117.5" y="782.2" style="font-family:'Liberation Sans',Arial,sans-serif;font-size:66px;font-weight:bold" text-anchor="start" fill="#000" >c</text>
<text x="946.3" y="782.2" style="font-family:'Liberation Sans',Arial,sans-serif;font-size:66px;font-weight:bold" text-anchor="start" fill="#000" >d</text>
<text x="116.5" y="1508.0" style="font-family:'Liberation Sans',Arial,sans-serif;font-size:66px;font-weight:bold" text-anchor="start" fill="#000" >e</text>
<text x="641.0" y="1508.0" style="font-family:'Liberation Sans',Arial,sans-serif;font-size:66px;font-weight:bold" text-anchor="start" fill="#000" >f</text>
<text x="1154.0" y="1496.0" style="font-family:'Liberation Sans',Arial,sans-serif;font-size:66px;font-weight:bold" text-anchor="start" fill="#000" >g</text>
<text x="19" y="2156.7" style="font-family:'Liberation Serif','Times New Roman',serif;font-size:46px" textLength="1374" lengthAdjust="spacingAndGlyphs" xml:space="preserve"><tspan style="font-weight:bold" fill="#f20000">Red</tspan><tspan style="font-weight:normal" fill="#000"> heterozygous maternally (MAT) inherited KO allele - equivalent to risk alleles</tspan></text>
<text x="19" y="2265.3" style="font-family:'Liberation Serif','Times New Roman',serif;font-size:46px" textLength="1337" lengthAdjust="spacingAndGlyphs" xml:space="preserve"><tspan style="font-weight:bold" fill="#0000e6">Blue</tspan><tspan style="font-weight:normal" fill="#000"> heterozygous Paternally (PAT) inherited KO allele  - equivalent to non-risk</tspan></text>
<text x="19" y="2372.4" style="font-family:'Liberation Serif','Times New Roman',serif;font-size:46px" textLength="1885" lengthAdjust="spacingAndGlyphs" xml:space="preserve"><tspan style="font-weight:bold" fill="#7f7f7f">Grey</tspan><tspan style="font-weight:bold" fill="#000"> and Black</tspan><tspan style="font-weight:normal" fill="#000"> homozygous WILDTYPE (equivalent to non-risk) colonymate mice from the two stocks above:</tspan></text>
<text x="19" y="2479.7" style="font-family:'Liberation Serif','Times New Roman',serif;font-size:46px" textLength="1709" lengthAdjust="spacingAndGlyphs" xml:space="preserve"><tspan style="font-weight:bold" fill="#000">Grey</tspan><tspan style="font-weight:normal" fill="#000"> one wildtype allele from mothers carrying the KO and the other from a wildtype C57BL/6N male</tspan></text>
<text x="19" y="2532.8" style="font-family:'Liberation Serif','Times New Roman',serif;font-size:46px" textLength="1733" lengthAdjust="spacingAndGlyphs" xml:space="preserve"><tspan style="font-weight:bold" fill="#000">Black</tspan><tspan style="font-weight:normal" fill="#000"> one wildtype allele from fathers carrying the KO and the other from a wildtype C57BL/6N female</tspan></text>
</svg></body></html>
